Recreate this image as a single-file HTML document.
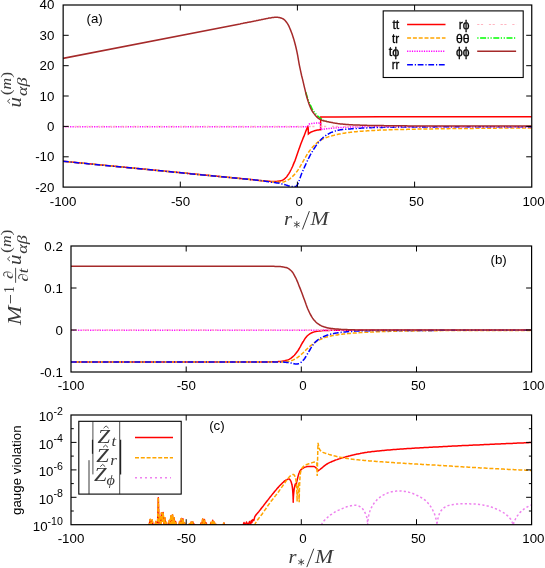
<!DOCTYPE html>
<html><head><meta charset="utf-8"><title>figure</title>
<style>html,body{margin:0;padding:0;background:#fff;}svg{display:block;will-change:transform;}</style></head><body>
<svg width="545" height="568" viewBox="0 0 545 568" font-family="'Liberation Sans', sans-serif">
<rect x="0" y="0" width="545" height="568" fill="#fff"/>
<defs>
<clipPath id="ca"><rect x="63.1" y="5" width="468.6" height="182.1"/></clipPath>
<clipPath id="cb"><rect x="71" y="246" width="460.6" height="126"/></clipPath>
<clipPath id="cc"><rect x="71" y="415" width="460.6" height="109.7"/></clipPath>
</defs>
<g id="panelA">
<path d="M62.9 161.3 L262 180.7 L262.6 180.8 L263.2 180.8 L263.8 180.9 L264.4 180.9 L265 181 L265.6 181 L266.2 181.1 L266.9 181.1 L267.5 181.2 L268.1 181.2 L268.7 181.2 L269.3 181.3 L269.9 181.3 L270.5 181.4 L271.1 181.4 L271.7 181.5 L272.3 181.5 L272.9 181.5 L273.5 181.5 L274.1 181.5 L274.7 181.5 L275.3 181.4 L276 181.4 L276.6 181.4 L277.2 181.3 L277.8 181.3 L278.4 181.2 L279 181.1 L279.6 181 L280.2 180.9 L280.8 180.7 L281.4 180.6 L282 180.4 L282.6 180.1 L283.2 179.8 L283.8 179.5 L284.4 179 L285.1 178.4 L285.7 177.8 L286.3 177.2 L286.9 176.5 L287.5 175.6 L288.1 174.7 L288.7 173.8 L289.3 172.8 L289.9 171.8 L290.5 170.6 L291.1 169.5 L291.7 168.3 L292.3 167 L292.9 165.6 L293.5 164.1 L294.1 162.6 L294.8 161.1 L295.4 159.4 L296 157.7 L296.6 156 L297.2 154.3 L297.8 152.5 L298.4 150.8 L299 149.1 L299.6 147.4 L300.2 145.7 L300.8 144.1 L301.4 142.5 L302 141 L302.6 139.5 L303.2 137.9 L303.9 136.4 L304.5 134.8 L305.1 133.2 L305.7 131.6 L306.3 130.1 L306.9 128.6 L307.5 127.3 L308.1 126.1 L308.4 134 L309.4 133.2 L310.4 132.5 L311.4 131.9 L312.5 131.5 L313.5 131.1 L314.5 130.8 L315.5 130.5 L316.5 130.3 L317.6 130.1 L318.6 129.9 L319.6 129.8 L320.6 129.7 L320.7 116.9 L335 116.9 L380 116.8 L531.9 116.7" fill="none" stroke="#ff0000" stroke-width="1.5" clip-path="url(#ca)" />
<path d="M62.9 161.3 L266 181.1 L267 181.2 L268 181.4 L269 181.5 L270 181.6 L271 181.7 L272 181.8 L273 181.9 L274 181.9 L275 182 L276 182.1 L277 182.1 L278 182.2 L279 182.2 L280 182.2 L281.1 182.2 L282.1 182 L283.1 181.9 L284.1 181.7 L285.1 181.4 L286.1 181 L287.1 180.5 L288.1 179.9 L289.1 179.3 L290.1 178.6 L291.1 177.8 L292.1 176.9 L293.1 175.9 L294.1 174.9 L295.1 173.8 L296.1 172.6 L297.1 171.3 L298.1 169.9 L299.1 168.3 L300.1 166.6 L301.1 164.9 L302.1 163.2 L303.1 161.4 L304.1 159.6 L305.1 157.8 L306.1 156.2 L307.1 154.5 L308.1 153 L309.1 151.5 L310.1 150.1 L311.2 148.8 L312.2 147.6 L313.2 146.5 L314.2 145.4 L315.2 144.4 L316.2 143.5 L317.2 142.6 L318.2 141.8 L319.2 141.1 L320.2 140.4 L321.2 139.8 L322.2 139.3 L323.2 138.8 L324.2 138.3 L325.2 137.9 L326.2 137.6 L327.2 137.2 L328.2 136.9 L329.2 136.5 L330.2 136.2 L331.2 135.9 L332.2 135.7 L333.2 135.4 L334.2 135.2 L335.2 134.9 L336.2 134.7 L337.2 134.5 L338.2 134.3 L339.2 134.1 L340.3 133.9 L341.3 133.7 L342.3 133.5 L343.3 133.3 L344.3 133.2 L345.3 133 L346.3 132.8 L347.3 132.7 L348.3 132.5 L349.3 132.4 L350.3 132.3 L351.3 132.2 L352.3 132 L353.3 131.9 L354.3 131.8 L355.3 131.8 L356.3 131.7 L357.3 131.6 L358.3 131.5 L359.3 131.4 L360.3 131.3 L361.3 131.2 L362.3 131.2 L363.3 131.1 L364.3 131 L365.3 131 L366.3 130.9 L367.3 130.8 L368.3 130.8 L369.3 130.7 L370.4 130.6 L371.4 130.6 L372.4 130.5 L373.4 130.4 L374.4 130.4 L375.4 130.3 L376.4 130.3 L377.4 130.2 L378.4 130.2 L379.4 130.1 L380.4 130.1 L381.4 130 L382.4 130 L383.4 130 L384.4 129.9 L385.4 129.9 L386.4 129.9 L387.4 129.8 L388.4 129.8 L389.4 129.8 L390.4 129.8 L391.4 129.7 L392.4 129.7 L393.4 129.7 L394.4 129.6 L395.4 129.6 L396.4 129.6 L397.4 129.6 L398.4 129.5 L399.5 129.5 L400.5 129.5 L401.5 129.5 L402.5 129.4 L403.5 129.4 L404.5 129.4 L405.5 129.4 L406.5 129.4 L407.5 129.3 L408.5 129.3 L409.5 129.3 L410.5 129.3 L411.5 129.3 L412.5 129.2 L413.5 129.2 L414.5 129.2 L415.5 129.2 L416.5 129.2 L417.5 129.1 L418.5 129.1 L419.5 129.1 L420.5 129.1 L421.5 129.1 L422.5 129.1 L423.5 129 L424.5 129 L425.5 129 L426.5 129 L427.5 129 L428.6 129 L429.6 128.9 L430.6 128.9 L431.6 128.9 L432.6 128.9 L433.6 128.9 L434.6 128.9 L435.6 128.8 L436.6 128.8 L437.6 128.8 L438.6 128.8 L439.6 128.8 L440.6 128.8 L441.6 128.7 L442.6 128.7 L443.6 128.7 L444.6 128.7 L445.6 128.7 L446.6 128.7 L447.6 128.7 L448.6 128.7 L449.6 128.6 L450.6 128.6 L451.6 128.6 L452.6 128.6 L453.6 128.6 L454.6 128.6 L455.6 128.6 L456.6 128.5 L457.6 128.5 L458.7 128.5 L459.7 128.5 L460.7 128.5 L461.7 128.5 L462.7 128.5 L463.7 128.5 L464.7 128.5 L465.7 128.4 L466.7 128.4 L467.7 128.4 L468.7 128.4 L469.7 128.4 L470.7 128.4 L471.7 128.4 L472.7 128.4 L473.7 128.4 L474.7 128.4 L475.7 128.3 L476.7 128.3 L477.7 128.3 L478.7 128.3 L479.7 128.3 L480.7 128.3 L481.7 128.3 L482.7 128.3 L483.7 128.3 L484.7 128.3 L485.7 128.2 L486.7 128.2 L487.8 128.2 L488.8 128.2 L489.8 128.2 L490.8 128.2 L491.8 128.2 L492.8 128.2 L493.8 128.2 L494.8 128.2 L495.8 128.2 L496.8 128.1 L497.8 128.1 L498.8 128.1 L499.8 128.1 L500.8 128.1 L501.8 128.1 L502.8 128.1 L503.8 128.1 L504.8 128.1 L505.8 128.1 L506.8 128.1 L507.8 128.1 L508.8 128 L509.8 128 L510.8 128 L511.8 128 L512.8 128 L513.8 128 L514.8 128 L515.8 128 L516.8 128 L517.9 128 L518.9 128 L519.9 128 L520.9 128 L521.9 128 L522.9 127.9 L523.9 127.9 L524.9 127.9 L525.9 127.9 L526.9 127.9 L527.9 127.9 L528.9 127.9 L529.9 127.9 L530.9 127.9 L531.9 127.9" fill="none" stroke="#ffa500" stroke-width="1.5" stroke-dasharray="4 1.8" clip-path="url(#ca)" />
<path d="M62.9 126.7 L306 126.7 L306.6 126.6 L307.2 126.5 L307.8 126.2 L308.4 125.4 L309 124.3 L309.6 123.9 L310.2 123.7 L310.8 123.6 L311.4 123.6 L312 123.5 L312.6 123.4 L313.2 123.4 L313.9 123.3 L314.5 123.2 L315.1 123.2 L315.7 123.1 L316.3 123.1 L316.9 123 L317.5 123 L318.1 122.9 L318.7 122.9 L319.3 122.9 L319.9 122.8 L320.5 122.8 L320.7 129.6 L321.7 129.5 L322.7 129.3 L323.7 129.2 L324.7 129 L325.7 128.9 L326.7 128.8 L327.7 128.7 L328.7 128.6 L329.7 128.5 L330.7 128.3 L331.7 128.2 L332.7 128.1 L333.7 128.1 L334.7 128 L335.7 127.9 L336.7 127.8 L337.7 127.7 L338.7 127.6 L339.7 127.6 L340.7 127.5 L341.7 127.4 L342.7 127.4 L343.7 127.3 L344.7 127.2 L345.7 127.2 L346.7 127.1 L347.7 127.1 L348.7 127 L349.7 127 L350.7 127 L351.7 127 L352.7 126.9 L353.7 126.9 L354.7 126.9 L355.7 126.9 L356.7 126.9 L357.7 126.9 L358.7 126.8 L359.7 126.8 L360.7 126.8 L361.7 126.8 L362.7 126.8 L363.7 126.8 L364.7 126.8 L365.7 126.8 L366.7 126.8 L367.7 126.8 L368.7 126.8 L369.7 126.8 L370.7 126.7 L371.7 126.7 L372.7 126.7 L373.8 126.7 L374.8 126.7 L375.8 126.7 L376.8 126.7 L377.8 126.7 L378.8 126.7 L379.8 126.7 L380.8 126.7 L381.8 126.7 L382.8 126.7 L383.8 126.7 L384.8 126.7 L385.8 126.7 L386.8 126.7 L387.8 126.7 L388.8 126.7 L389.8 126.7 L390.8 126.7 L391.8 126.7 L392.8 126.7 L393.8 126.7 L394.8 126.7 L395.8 126.7 L396.8 126.7 L397.8 126.7 L398.8 126.7 L399.8 126.7 L400.8 126.7 L401.8 126.7 L402.8 126.7 L403.8 126.7 L404.8 126.7 L405.8 126.7 L406.8 126.7 L407.8 126.7 L408.8 126.7 L409.8 126.7 L410.8 126.7 L411.8 126.7 L412.8 126.7 L413.8 126.7 L414.8 126.7 L415.8 126.7 L416.8 126.7 L417.8 126.7 L418.8 126.7 L419.8 126.7 L420.8 126.7 L421.8 126.7 L422.8 126.7 L423.8 126.7 L424.8 126.7 L425.8 126.7 L426.8 126.7 L427.8 126.7 L428.8 126.7 L429.8 126.7 L430.8 126.7 L431.8 126.7 L432.8 126.7 L433.8 126.7 L434.8 126.7 L435.8 126.7 L436.8 126.7 L437.8 126.7 L438.8 126.7 L439.8 126.7 L440.8 126.7 L441.8 126.7 L442.8 126.7 L443.8 126.7 L444.8 126.7 L445.8 126.7 L446.8 126.7 L447.8 126.7 L448.8 126.7 L449.8 126.7 L450.8 126.7 L451.8 126.7 L452.8 126.7 L453.8 126.7 L454.8 126.7 L455.8 126.7 L456.8 126.7 L457.8 126.7 L458.8 126.7 L459.8 126.7 L460.8 126.7 L461.8 126.7 L462.8 126.7 L463.8 126.7 L464.8 126.7 L465.8 126.7 L466.8 126.7 L467.8 126.7 L468.8 126.7 L469.8 126.7 L470.8 126.7 L471.8 126.7 L472.8 126.7 L473.8 126.7 L474.8 126.7 L475.8 126.7 L476.8 126.7 L477.8 126.7 L478.8 126.7 L479.9 126.7 L480.9 126.7 L481.9 126.7 L482.9 126.7 L483.9 126.7 L484.9 126.7 L485.9 126.7 L486.9 126.7 L487.9 126.7 L488.9 126.7 L489.9 126.7 L490.9 126.7 L491.9 126.7 L492.9 126.7 L493.9 126.7 L494.9 126.7 L495.9 126.7 L496.9 126.7 L497.9 126.7 L498.9 126.7 L499.9 126.7 L500.9 126.7 L501.9 126.7 L502.9 126.7 L503.9 126.7 L504.9 126.7 L505.9 126.7 L506.9 126.7 L507.9 126.7 L508.9 126.7 L509.9 126.7 L510.9 126.7 L511.9 126.7 L512.9 126.7 L513.9 126.7 L514.9 126.7 L515.9 126.7 L516.9 126.7 L517.9 126.7 L518.9 126.7 L519.9 126.7 L520.9 126.7 L521.9 126.7 L522.9 126.7 L523.9 126.7 L524.9 126.7 L525.9 126.7 L526.9 126.7 L527.9 126.7 L528.9 126.7 L529.9 126.7 L530.9 126.7 L531.9 126.7" fill="none" stroke="#ff00ff" stroke-width="1.5" stroke-dasharray="1.2 1.2" clip-path="url(#ca)" />
<path d="M62.9 161.3 L264 180.9 L264.6 181 L265.2 181.2 L265.8 181.3 L266.4 181.4 L267 181.5 L267.6 181.6 L268.2 181.7 L268.8 181.8 L269.4 181.9 L270 182 L270.6 182.1 L271.2 182.2 L271.8 182.2 L272.4 182.3 L273 182.4 L273.6 182.5 L274.2 182.5 L274.8 182.6 L275.4 182.7 L276 182.8 L276.6 182.9 L277.2 182.9 L277.8 183 L278.4 183.1 L279 183.2 L279.6 183.3 L280.2 183.4 L280.8 183.6 L281.4 183.7 L282 183.9 L282.6 184 L283.2 184.2 L283.8 184.3 L284.4 184.5 L285 184.7 L285.6 184.9 L286.2 185.1 L286.8 185.3 L287.4 185.5 L288 185.7 L288.6 185.9 L289.2 186 L289.8 186.2 L290.4 186.3 L291 186.4 L291.6 186.5 L292.2 186.6 L292.8 186.6 L293.4 186.6 L294 186.6 L294.6 186.6 L295.2 186.5 L295.8 186.4 L296.4 186 L297 185.3 L297.6 184.4 L298.2 183.2 L298.8 181.5 L299.4 179.9 L300 178.2 L300.6 176.5 L301.2 174.8 L301.8 173.2 L302.4 171.7 L303 170.4 L303.6 169 L304.2 167.7 L304.8 166.4 L305.4 165.1 L306 163.8 L306.6 162.5 L307.2 161.2 L307.8 159.9 L308.4 158.7 L309.1 157.4 L309.7 156.2 L310.3 155 L310.9 153.9 L311.5 152.8 L312.1 151.8 L312.7 150.8 L313.3 149.9 L313.9 148.9 L314.5 148 L315.1 147.1 L315.7 146.2 L316.3 145.3 L316.9 144.5 L317.5 143.7 L318.1 142.9 L318.7 142.2 L319.3 141.4 L319.9 140.8 L320.5 140.1 L321.1 139.5 L321.7 138.8 L322.3 138.3 L322.9 137.7 L323.5 137.2 L324.1 136.7 L324.7 136.3 L325.3 135.8 L325.9 135.4 L326.5 135 L327.1 134.7 L327.7 134.3 L328.3 134 L328.9 133.6 L329.5 133.3 L330.1 133 L330.7 132.7 L331.3 132.4 L331.9 132.2 L332.5 132 L333.1 131.7 L333.7 131.5 L334.3 131.3 L334.9 131.1 L335.5 130.9 L336.1 130.8 L336.7 130.6 L337.3 130.5 L337.9 130.3 L338.5 130.2 L339.1 130.1 L339.7 130 L340.3 129.8 L340.9 129.8 L341.5 129.7 L342.1 129.6 L342.7 129.5 L343.3 129.5 L343.9 129.4 L344.5 129.3 L345.1 129.3 L345.7 129.2 L346.3 129.2 L346.9 129.1 L347.5 129.1 L348.1 129 L348.7 129 L349.3 129 L349.9 128.9 L350.5 128.9 L351.1 128.8 L351.7 128.8 L352.3 128.7 L352.9 128.7 L353.5 128.6 L354.1 128.6 L354.7 128.6 L355.3 128.5 L355.9 128.5 L356.5 128.4 L357.1 128.4 L357.7 128.4 L358.3 128.3 L358.9 128.3 L359.5 128.3 L360.1 128.2 L360.7 128.2 L361.3 128.1 L361.9 128.1 L362.5 128.1 L363.1 128.1 L363.7 128 L364.3 128 L364.9 128 L365.5 127.9 L366.1 127.9 L366.7 127.9 L367.3 127.8 L367.9 127.8 L368.5 127.8 L369.1 127.8 L369.7 127.7 L370.3 127.7 L370.9 127.7 L371.5 127.7 L372.1 127.6 L372.7 127.6 L373.3 127.6 L373.9 127.6 L374.5 127.6 L375.1 127.5 L375.7 127.5 L376.3 127.5 L376.9 127.5 L377.5 127.5 L378.1 127.4 L378.7 127.4 L379.3 127.4 L379.9 127.4 L380.5 127.4 L381.1 127.4 L381.7 127.4 L382.3 127.4 L382.9 127.3 L383.5 127.3 L384.1 127.3 L384.7 127.3 L385.3 127.3 L385.9 127.3 L386.5 127.3 L387.1 127.3 L387.7 127.3 L388.3 127.2 L388.9 127.2 L389.5 127.2 L390.1 127.2 L390.7 127.2 L391.3 127.2 L391.9 127.2 L392.5 127.2 L393.1 127.2 L393.7 127.2 L394.3 127.1 L394.9 127.1 L395.5 127.1 L396.1 127.1 L396.7 127.1 L397.3 127.1 L397.9 127.1 L398.6 127.1 L399.2 127.1 L399.8 127.1 L400.4 127.1 L401 127.1 L401.6 127 L402.2 127 L402.8 127 L403.4 127 L404 127 L404.6 127 L405.2 127 L405.8 127 L406.4 127 L407 127 L407.6 127 L408.2 127 L408.8 127 L409.4 127 L410 127 L410.6 127 L411.2 127 L411.8 126.9 L412.4 126.9 L413 126.9 L413.6 126.9 L414.2 126.9 L414.8 126.9 L415.4 126.9 L416 126.9 L416.6 126.9 L417.2 126.9 L417.8 126.9 L418.4 126.9 L419 126.9 L419.6 126.9 L420.2 126.9 L420.8 126.9 L421.4 126.9 L422 126.9 L422.6 126.9 L423.2 126.9 L423.8 126.9 L424.4 126.9 L425 126.9 L425.6 126.9 L426.2 126.9 L426.8 126.9 L427.4 126.9 L428 126.9 L428.6 126.9 L429.2 126.9 L429.8 126.9 L430.4 126.9 L431 126.9 L431.6 126.9 L432.2 126.9 L432.8 126.9 L433.4 126.9 L434 126.9 L434.6 126.9 L435.2 126.8 L435.8 126.8 L436.4 126.8 L437 126.8 L437.6 126.8 L438.2 126.8 L438.8 126.8 L439.4 126.8 L440 126.8 L440.6 126.8 L441.2 126.8 L441.8 126.8 L442.4 126.8 L443 126.8 L443.6 126.8 L444.2 126.8 L444.8 126.8 L445.4 126.8 L446 126.8 L446.6 126.8 L447.2 126.8 L447.8 126.8 L448.4 126.8 L449 126.8 L449.6 126.8 L450.2 126.8 L450.8 126.8 L451.4 126.8 L452 126.8 L452.6 126.8 L453.2 126.8 L453.8 126.8 L454.4 126.8 L455 126.8 L455.6 126.8 L456.2 126.8 L456.8 126.8 L457.4 126.8 L458 126.8 L458.6 126.8 L459.2 126.8 L459.8 126.8 L460.4 126.8 L461 126.8 L461.6 126.8 L462.2 126.8 L462.8 126.8 L463.4 126.8 L464 126.8 L464.6 126.8 L465.2 126.8 L465.8 126.8 L466.4 126.8 L467 126.8 L467.6 126.8 L468.2 126.8 L468.8 126.8 L469.4 126.8 L470 126.8 L470.6 126.8 L471.2 126.8 L471.8 126.8 L472.4 126.8 L473 126.8 L473.6 126.8 L474.2 126.8 L474.8 126.8 L475.4 126.8 L476 126.8 L476.6 126.7 L477.2 126.7 L477.8 126.7 L478.4 126.7 L479 126.7 L479.6 126.7 L480.2 126.7 L480.8 126.7 L481.4 126.7 L482 126.7 L482.6 126.7 L483.2 126.7 L483.8 126.7 L484.4 126.7 L485 126.7 L485.6 126.7 L486.2 126.7 L486.8 126.7 L487.5 126.7 L488.1 126.7 L488.7 126.7 L489.3 126.7 L489.9 126.7 L490.5 126.7 L491.1 126.7 L491.7 126.7 L492.3 126.7 L492.9 126.7 L493.5 126.7 L494.1 126.7 L494.7 126.7 L495.3 126.7 L495.9 126.7 L496.5 126.7 L497.1 126.7 L497.7 126.7 L498.3 126.7 L498.9 126.7 L499.5 126.7 L500.1 126.7 L500.7 126.7 L501.3 126.7 L501.9 126.7 L502.5 126.7 L503.1 126.7 L503.7 126.7 L504.3 126.7 L504.9 126.7 L505.5 126.7 L506.1 126.7 L506.7 126.7 L507.3 126.7 L507.9 126.7 L508.5 126.7 L509.1 126.7 L509.7 126.7 L510.3 126.7 L510.9 126.7 L511.5 126.7 L512.1 126.7 L512.7 126.7 L513.3 126.7 L513.9 126.7 L514.5 126.7 L515.1 126.7 L515.7 126.7 L516.3 126.7 L516.9 126.7 L517.5 126.7 L518.1 126.7 L518.7 126.7 L519.3 126.7 L519.9 126.7 L520.5 126.7 L521.1 126.7 L521.7 126.7 L522.3 126.7 L522.9 126.7 L523.5 126.7 L524.1 126.7 L524.7 126.7 L525.3 126.7 L525.9 126.7 L526.5 126.7 L527.1 126.7 L527.7 126.7 L528.3 126.7 L528.9 126.7 L529.5 126.7 L530.1 126.7 L530.7 126.7 L531.3 126.7 L531.9 126.7" fill="none" stroke="#0000ff" stroke-width="1.5" stroke-dasharray="5.8 1.9 1.2 1.7" clip-path="url(#ca)" />
<path d="M62.9 126.6 L531.9 126.6" fill="none" stroke="#ffb6c1" stroke-width="1.5" stroke-dasharray="2.2 1.5 2.2 5.8" clip-path="url(#ca)" />
<path d="M305.8 92.2 L306.6 95 L307.4 97.6 L308.2 99.9 L309 102 L309.8 103.9 L310.6 105.7 L311.4 107.3 L312.2 108.8 L313 110.1 L313.8 111.4 L314.6 112.5 L315.4 113.5 L316.2 114.5 L317 115.3 L317.8 116.1 L318.6 116.8 L319.4 117.4 L320.2 118.1 L321 118.8 L321.8 119.4 L322.6 119.9 L323.4 120.3 L324.2 120.6 L325 120.9 L325.8 121.2 L326.6 121.4" fill="none" stroke="#00ff00" stroke-width="1.5" stroke-dasharray="6 1.5 1.2 1.7 1.2 1.6" clip-path="url(#ca)" />
<path d="M62.9 58.4 L240 23.9 L240.8 23.7 L241.6 23.6 L242.4 23.4 L243.2 23.3 L244 23.1 L244.8 23 L245.6 22.8 L246.4 22.7 L247.2 22.5 L248 22.3 L248.8 22.2 L249.6 22 L250.4 21.9 L251.2 21.7 L252 21.6 L252.8 21.4 L253.6 21.2 L254.4 21.1 L255.2 20.9 L256 20.8 L256.8 20.6 L257.6 20.4 L258.4 20.3 L259.2 20.1 L260 19.9 L260.9 19.8 L261.7 19.6 L262.5 19.4 L263.3 19.2 L264.1 19.1 L264.9 18.9 L265.7 18.7 L266.5 18.6 L267.3 18.4 L268.1 18.3 L268.9 18.1 L269.7 18 L270.5 17.9 L271.3 17.7 L272.1 17.6 L272.9 17.5 L273.7 17.4 L274.5 17.3 L275.3 17.3 L276.1 17.2 L276.9 17.2 L277.7 17.3 L278.5 17.4 L279.3 17.5 L280.1 17.7 L280.9 17.9 L281.7 18.2 L282.5 18.6 L283.3 19 L284.1 19.6 L284.9 20.3 L285.7 21.2 L286.5 22.2 L287.3 23.4 L288.1 24.7 L288.9 26.2 L289.7 28 L290.5 29.9 L291.3 32 L292.1 34.1 L292.9 36.4 L293.7 38.9 L294.5 41.7 L295.3 44.7 L296.1 48 L296.9 51.6 L297.7 55.7 L298.5 60.3 L299.3 64.8 L300.1 68.7 L300.9 72.4 L301.7 76 L302.6 79.4 L303.4 82.8 L304.2 86.3 L305 89.7 L305.8 93.1 L306.6 96.2 L307.4 99.1 L308.2 101.6 L309 103.9 L309.8 106.1 L310.6 108 L311.4 109.6 L312.2 111 L313 112.3 L313.8 113.4 L314.6 114.4 L315.4 115.4 L316.2 116.3 L317 117.1 L317.8 117.9 L318.6 118.5 L319.4 119 L320.2 119.4 L321 119.8 L321.8 120.2 L322.6 120.4 L323.4 120.7 L324.2 120.9 L325 121.1 L325.8 121.3 L326.6 121.5 L327.4 121.7 L328.2 121.8 L329 122 L329.8 122.2 L330.6 122.3 L331.4 122.5 L332.2 122.6 L333 122.8 L333.8 122.9 L334.6 123.1 L335.4 123.2 L336.2 123.3 L337 123.4 L337.8 123.6 L338.6 123.7 L339.4 123.8 L340.2 123.9 L341 123.9 L341.8 124 L342.6 124.1 L343.4 124.2 L344.2 124.3 L345.1 124.3 L345.9 124.4 L346.7 124.5 L347.5 124.5 L348.3 124.6 L349.1 124.7 L349.9 124.7 L350.7 124.8 L351.5 124.8 L352.3 124.8 L353.1 124.9 L353.9 124.9 L354.7 125 L355.5 125 L356.3 125 L357.1 125 L357.9 125.1 L358.7 125.1 L359.5 125.1 L360.3 125.2 L361.1 125.2 L361.9 125.2 L362.7 125.2 L363.5 125.3 L364.3 125.3 L365.1 125.3 L365.9 125.3 L366.7 125.3 L367.5 125.4 L368.3 125.4 L369.1 125.4 L369.9 125.4 L370.7 125.4 L371.5 125.5 L372.3 125.5 L373.1 125.5 L373.9 125.5 L374.7 125.5 L375.5 125.5 L376.3 125.5 L377.1 125.6 L377.9 125.6 L378.7 125.6 L379.5 125.6 L380.3 125.6 L381.1 125.6 L381.9 125.6 L382.7 125.6 L383.5 125.6 L384.3 125.7 L385.1 125.7 L385.9 125.7 L386.8 125.7 L387.6 125.7 L388.4 125.7 L389.2 125.7 L390 125.7 L390.8 125.7 L391.6 125.7 L392.4 125.7 L393.2 125.7 L394 125.8 L394.8 125.8 L395.6 125.8 L396.4 125.8 L397.2 125.8 L398 125.8 L398.8 125.8 L399.6 125.8 L400.4 125.8 L401.2 125.8 L402 125.8 L402.8 125.8 L403.6 125.8 L404.4 125.8 L405.2 125.8 L406 125.8 L406.8 125.8 L407.6 125.9 L408.4 125.9 L409.2 125.9 L410 125.9 L410.8 125.9 L411.6 125.9 L412.4 125.9 L413.2 125.9 L414 125.9 L414.8 125.9 L415.6 125.9 L416.4 125.9 L417.2 125.9 L418 125.9 L418.8 125.9 L419.6 125.9 L420.4 125.9 L421.2 125.9 L422 125.9 L422.8 125.9 L423.6 125.9 L424.4 125.9 L425.2 125.9 L426 125.9 L426.8 125.9 L427.6 125.9 L428.5 125.9 L429.3 125.9 L430.1 125.9 L430.9 125.9 L431.7 125.9 L432.5 125.9 L433.3 125.9 L434.1 125.9 L434.9 125.9 L435.7 125.9 L436.5 125.9 L437.3 125.9 L438.1 125.9 L438.9 125.9 L439.7 125.9 L440.5 125.9 L441.3 125.9 L442.1 125.9 L442.9 125.9 L443.7 125.9 L444.5 125.9 L445.3 125.9 L446.1 125.9 L446.9 125.9 L447.7 125.9 L448.5 125.9 L449.3 125.9 L450.1 125.9 L450.9 125.9 L451.7 125.9 L452.5 126 L453.3 126 L454.1 126 L454.9 126 L455.7 126 L456.5 126 L457.3 126 L458.1 126 L458.9 126 L459.7 126 L460.5 126 L461.3 126 L462.1 126 L462.9 126 L463.7 126 L464.5 126 L465.3 126 L466.1 126 L466.9 126 L467.7 126 L468.5 126 L469.3 126 L470.2 126 L471 126 L471.8 126 L472.6 126 L473.4 126 L474.2 126 L475 126 L475.8 126 L476.6 126 L477.4 126 L478.2 126 L479 126 L479.8 126 L480.6 126 L481.4 126 L482.2 126 L483 126 L483.8 126 L484.6 126 L485.4 126 L486.2 126 L487 126 L487.8 126 L488.6 126 L489.4 126 L490.2 126 L491 126 L491.8 126 L492.6 126 L493.4 126 L494.2 126 L495 126 L495.8 126 L496.6 126 L497.4 126 L498.2 126 L499 126 L499.8 126 L500.6 126 L501.4 126 L502.2 126 L503 126 L503.8 126 L504.6 126 L505.4 126 L506.2 126 L507 126 L507.8 126 L508.6 126 L509.4 126 L510.2 126 L511 126 L511.9 126 L512.7 126 L513.5 126 L514.3 126 L515.1 126 L515.9 126 L516.7 126 L517.5 126 L518.3 126 L519.1 126 L519.9 126 L520.7 126 L521.5 126 L522.3 126 L523.1 126 L523.9 126 L524.7 126 L525.5 126 L526.3 126 L527.1 126 L527.9 126 L528.7 126 L529.5 126 L530.3 126 L531.1 126 L531.9 126" fill="none" stroke="#a52a2a" stroke-width="1.5" clip-path="url(#ca)" />
<rect x="63.15" y="5" width="468.6" height="182.1" fill="none" stroke="#000" stroke-width="1.2"/>
<line x1="180.3" y1="187.1" x2="180.3" y2="181.6" stroke="#000" stroke-width="1.0" />
<line x1="180.3" y1="5" x2="180.3" y2="10.5" stroke="#000" stroke-width="1.0" />
<line x1="297.4" y1="187.1" x2="297.4" y2="181.6" stroke="#000" stroke-width="1.0" />
<line x1="297.4" y1="5" x2="297.4" y2="10.5" stroke="#000" stroke-width="1.0" />
<line x1="414.6" y1="187.1" x2="414.6" y2="181.6" stroke="#000" stroke-width="1.0" />
<line x1="414.6" y1="5" x2="414.6" y2="10.5" stroke="#000" stroke-width="1.0" />
<line x1="63.1" y1="35.3" x2="68.7" y2="35.3" stroke="#000" stroke-width="1.0" />
<line x1="531.7" y1="35.3" x2="526.2" y2="35.3" stroke="#000" stroke-width="1.0" />
<line x1="63.1" y1="65.7" x2="68.7" y2="65.7" stroke="#000" stroke-width="1.0" />
<line x1="531.7" y1="65.7" x2="526.2" y2="65.7" stroke="#000" stroke-width="1.0" />
<line x1="63.1" y1="96" x2="68.7" y2="96" stroke="#000" stroke-width="1.0" />
<line x1="531.7" y1="96" x2="526.2" y2="96" stroke="#000" stroke-width="1.0" />
<line x1="63.1" y1="126.4" x2="68.7" y2="126.4" stroke="#000" stroke-width="1.0" />
<line x1="531.7" y1="126.4" x2="526.2" y2="126.4" stroke="#000" stroke-width="1.0" />
<line x1="63.1" y1="156.8" x2="68.7" y2="156.8" stroke="#000" stroke-width="1.0" />
<line x1="531.7" y1="156.8" x2="526.2" y2="156.8" stroke="#000" stroke-width="1.0" />
<text x="54.4" y="9.4" text-anchor="end" font-family="'Liberation Sans', sans-serif" font-size="13.3" fill="#000" >40</text>
<text x="54.4" y="39.7" text-anchor="end" font-family="'Liberation Sans', sans-serif" font-size="13.3" fill="#000" >30</text>
<text x="54.4" y="70.1" text-anchor="end" font-family="'Liberation Sans', sans-serif" font-size="13.3" fill="#000" >20</text>
<text x="54.4" y="100.5" text-anchor="end" font-family="'Liberation Sans', sans-serif" font-size="13.3" fill="#000" >10</text>
<text x="54.4" y="130.8" text-anchor="end" font-family="'Liberation Sans', sans-serif" font-size="13.3" fill="#000" >0</text>
<text x="54.4" y="161.2" text-anchor="end" font-family="'Liberation Sans', sans-serif" font-size="13.3" fill="#000" >-10</text>
<text x="54.4" y="191.5" text-anchor="end" font-family="'Liberation Sans', sans-serif" font-size="13.3" fill="#000" >-20</text>
<text x="63.1" y="206" text-anchor="middle" font-family="'Liberation Sans', sans-serif" font-size="13.3" fill="#000" >-100</text>
<text x="180.5" y="206" text-anchor="middle" font-family="'Liberation Sans', sans-serif" font-size="13.3" fill="#000" >-50</text>
<text x="299.1" y="206" text-anchor="middle" font-family="'Liberation Sans', sans-serif" font-size="13.3" fill="#000" >0</text>
<text x="416.4" y="206" text-anchor="middle" font-family="'Liberation Sans', sans-serif" font-size="13.3" fill="#000" >50</text>
<text x="533.5" y="206" text-anchor="middle" font-family="'Liberation Sans', sans-serif" font-size="13.3" fill="#000" >100</text>
<text x="94.6" y="22.9" text-anchor="middle" font-family="'Liberation Sans', sans-serif" font-size="13.3" fill="#000" >(a)</text>
<rect x="383.2" y="10.9" width="140" height="66.6" fill="#fff" stroke="#000" stroke-width="1.1"/>
<text x="399.3" y="29.2" text-anchor="end" font-family="'Liberation Sans', sans-serif" font-size="13.3" fill="#000" stroke="#000" stroke-width="0.3" textLength="6.9" lengthAdjust="spacingAndGlyphs">tt</text>
<path d="M407.1 24.5 L445.5 24.5" fill="none" stroke="#ff0000" stroke-width="1.5" />
<text x="399.3" y="42.7" text-anchor="end" font-family="'Liberation Sans', sans-serif" font-size="13.3" fill="#000" stroke="#000" stroke-width="0.3" textLength="7.2" lengthAdjust="spacingAndGlyphs">tr</text>
<path d="M407.1 38 L445.5 38" fill="none" stroke="#ffa500" stroke-width="1.5" stroke-dasharray="4 1.8" />
<text x="399.3" y="56" text-anchor="end" font-family="'Liberation Sans', sans-serif" font-size="13.3" fill="#000" stroke="#000" stroke-width="0.3" textLength="10.6" lengthAdjust="spacingAndGlyphs">tϕ</text>
<path d="M407.1 51.3 L445.5 51.3" fill="none" stroke="#ff00ff" stroke-width="1.5" stroke-dasharray="1.2 1.2" />
<text x="399.3" y="69.4" text-anchor="end" font-family="'Liberation Sans', sans-serif" font-size="13.3" fill="#000" stroke="#000" stroke-width="0.3" textLength="7.6" lengthAdjust="spacingAndGlyphs">rr</text>
<path d="M407.1 64.7 L445.5 64.7" fill="none" stroke="#0000ff" stroke-width="1.5" stroke-dasharray="5.8 1.9 1.2 1.7" />
<text x="469.6" y="29.2" text-anchor="end" font-family="'Liberation Sans', sans-serif" font-size="13.3" fill="#000" stroke="#000" stroke-width="0.3" textLength="10.8" lengthAdjust="spacingAndGlyphs">rϕ</text>
<path d="M477.2 24.5 L516.1 24.5" fill="none" stroke="#ffb6c1" stroke-width="1.2" stroke-dasharray="2.2 1.5 2.2 5.8" />
<text x="469.6" y="42.7" text-anchor="end" font-family="'Liberation Sans', sans-serif" font-size="13.3" fill="#000" stroke="#000" stroke-width="0.3" textLength="13.6" lengthAdjust="spacingAndGlyphs">θθ</text>
<path d="M477.2 38 L516.1 38" fill="none" stroke="#00ff00" stroke-width="1.5" stroke-dasharray="6 1.5 1.2 1.7 1.2 1.6" stroke-dashoffset="10.3"/>
<text x="469.6" y="56" text-anchor="end" font-family="'Liberation Sans', sans-serif" font-size="13.3" fill="#000" stroke="#000" stroke-width="0.3" textLength="13.6" lengthAdjust="spacingAndGlyphs">ϕϕ</text>
<path d="M477.2 51.3 L516.1 51.3" fill="none" stroke="#a52a2a" stroke-width="1.4" />
</g>
<g id="panelB">
<path d="M70.9 361.9 L250 361.9 L250.6 361.9 L251.2 361.9 L251.8 361.9 L252.4 361.9 L253 361.9 L253.6 361.9 L254.2 361.9 L254.8 361.9 L255.4 361.9 L256 361.9 L256.6 361.9 L257.2 361.9 L257.8 361.9 L258.4 361.9 L259 361.9 L259.6 361.9 L260.2 361.9 L260.8 361.9 L261.4 361.9 L262 361.9 L262.6 361.9 L263.2 361.9 L263.8 361.9 L264.4 361.9 L265 361.9 L265.6 361.9 L266.2 361.9 L266.8 361.9 L267.4 361.9 L268 361.9 L268.6 361.8 L269.2 361.8 L269.8 361.8 L270.4 361.8 L271 361.8 L271.6 361.8 L272.2 361.8 L272.8 361.8 L273.4 361.8 L274 361.8 L274.6 361.8 L275.2 361.8 L275.8 361.8 L276.4 361.8 L277 361.7 L277.6 361.7 L278.2 361.6 L278.8 361.6 L279.4 361.5 L280 361.5 L280.6 361.4 L281.2 361.4 L281.8 361.3 L282.4 361.2 L283 361.1 L283.6 361 L284.2 360.9 L284.8 360.8 L285.4 360.6 L286 360.5 L286.6 360.3 L287.2 360.1 L287.8 359.9 L288.4 359.6 L289 359.4 L289.6 359.1 L290.2 358.7 L290.8 358.3 L291.4 357.9 L292 357.4 L292.6 356.9 L293.2 356.3 L293.8 355.8 L294.4 355.2 L295 354.5 L295.6 353.8 L296.2 353 L296.8 352.2 L297.5 351.3 L298.1 350.5 L298.7 349.5 L299.3 348.5 L299.9 347.4 L300.5 346.3 L301.1 345.1 L301.7 344 L302.3 343 L302.9 342 L303.5 341.1 L304.1 340.1 L304.7 339.1 L305.3 338.2 L305.9 337.4 L306.5 336.7 L307.1 336 L307.7 335.5 L308.3 335 L308.9 334.5 L309.5 334.1 L310.1 333.7 L310.7 333.3 L311.3 333 L311.9 332.7 L312.5 332.5 L313.1 332.3 L313.7 332.1 L314.3 331.9 L314.9 331.7 L315.5 331.6 L316.1 331.4 L316.7 331.3 L317.3 331.2 L317.9 331.2 L318.5 331.1 L319.1 331 L319.7 330.9 L320.3 330.9 L320.9 330.8 L321.5 330.7 L322.1 330.7 L322.7 330.6 L323.3 330.6 L323.9 330.6 L324.5 330.5 L325.1 330.5 L325.7 330.5 L326.3 330.5 L326.9 330.4 L327.5 330.4 L328.1 330.4 L328.7 330.4 L329.3 330.4 L329.9 330.3 L330.5 330.3 L331.1 330.3 L331.7 330.3 L332.3 330.3 L332.9 330.3 L333.5 330.3 L334.1 330.3 L334.7 330.2 L335.3 330.2 L335.9 330.2 L336.5 330.2 L337.1 330.2 L337.7 330.2 L338.3 330.2 L338.9 330.2 L339.5 330.2 L340.1 330.2 L340.7 330.2 L341.3 330.2 L341.9 330.2 L342.5 330.2 L343.1 330.2 L343.7 330.2 L344.3 330.2 L344.9 330.2 L345.5 330.2 L346.1 330.2 L346.7 330.2 L347.3 330.2 L347.9 330.2 L348.5 330.2 L349.1 330.2 L349.7 330.2 L350.3 330.2 L350.9 330.2 L351.5 330.2 L352.1 330.2 L352.7 330.2 L353.3 330.2 L353.9 330.2 L354.5 330.2 L355.1 330.2 L355.7 330.2 L356.3 330.2 L356.9 330.2 L357.5 330.2 L358.1 330.2 L358.7 330.2 L359.3 330.2 L359.9 330.2 L360.5 330.2 L361.1 330.2 L361.7 330.2 L362.3 330.2 L362.9 330.2 L363.5 330.2 L364.1 330.2 L364.7 330.2 L365.3 330.2 L365.9 330.2 L366.5 330.2 L367.1 330.2 L367.7 330.2 L368.3 330.2 L368.9 330.2 L369.5 330.2 L370.1 330.2 L370.7 330.2 L371.3 330.2 L371.9 330.2 L372.5 330.2 L373.1 330.2 L373.7 330.2 L374.3 330.2 L374.9 330.2 L375.5 330.2 L376.1 330.2 L376.7 330.2 L377.3 330.2 L377.9 330.2 L378.5 330.2 L379.1 330.2 L379.7 330.2 L380.3 330.2 L380.9 330.2 L381.5 330.2 L382.1 330.2 L382.7 330.2 L383.3 330.2 L383.9 330.2 L384.5 330.2 L385.1 330.2 L385.7 330.2 L386.3 330.2 L386.9 330.2 L387.5 330.2 L388.1 330.2 L388.7 330.2 L389.3 330.2 L389.9 330.2 L390.5 330.2 L391.1 330.2 L391.8 330.2 L392.4 330.2 L393 330.2 L393.6 330.2 L394.2 330.2 L394.8 330.2 L395.4 330.2 L396 330.2 L396.6 330.2 L397.2 330.2 L397.8 330.2 L398.4 330.2 L399 330.2 L399.6 330.2 L400.2 330.2 L400.8 330.2 L401.4 330.2 L402 330.2 L402.6 330.2 L403.2 330.2 L403.8 330.2 L404.4 330.2 L405 330.2 L405.6 330.2 L406.2 330.2 L406.8 330.2 L407.4 330.2 L408 330.2 L408.6 330.2 L409.2 330.2 L409.8 330.2 L410.4 330.2 L411 330.2 L411.6 330.2 L412.2 330.2 L412.8 330.2 L413.4 330.2 L414 330.2 L414.6 330.2 L415.2 330.2 L415.8 330.2 L416.4 330.2 L417 330.2 L417.6 330.2 L418.2 330.2 L418.8 330.2 L419.4 330.2 L420 330.2 L420.6 330.2 L421.2 330.2 L421.8 330.2 L422.4 330.2 L423 330.2 L423.6 330.2 L424.2 330.2 L424.8 330.2 L425.4 330.2 L426 330.2 L426.6 330.2 L427.2 330.2 L427.8 330.2 L428.4 330.2 L429 330.2 L429.6 330.2 L430.2 330.2 L430.8 330.2 L431.4 330.2 L432 330.2 L432.6 330.2 L433.2 330.2 L433.8 330.2 L434.4 330.2 L435 330.2 L435.6 330.2 L436.2 330.2 L436.8 330.2 L437.4 330.2 L438 330.2 L438.6 330.2 L439.2 330.2 L439.8 330.2 L440.4 330.2 L441 330.2 L441.6 330.2 L442.2 330.2 L442.8 330.2 L443.4 330.2 L444 330.2 L444.6 330.2 L445.2 330.2 L445.8 330.2 L446.4 330.2 L447 330.2 L447.6 330.2 L448.2 330.2 L448.8 330.2 L449.4 330.2 L450 330.2 L450.6 330.2 L451.2 330.2 L451.8 330.2 L452.4 330.2 L453 330.2 L453.6 330.2 L454.2 330.2 L454.8 330.2 L455.4 330.2 L456 330.2 L456.6 330.2 L457.2 330.2 L457.8 330.2 L458.4 330.2 L459 330.2 L459.6 330.2 L460.2 330.2 L460.8 330.2 L461.4 330.2 L462 330.2 L462.6 330.2 L463.2 330.2 L463.8 330.2 L464.4 330.2 L465 330.2 L465.6 330.2 L466.2 330.2 L466.8 330.2 L467.4 330.2 L468 330.2 L468.6 330.2 L469.2 330.2 L469.8 330.2 L470.4 330.2 L471 330.2 L471.6 330.2 L472.2 330.2 L472.8 330.2 L473.4 330.2 L474 330.2 L474.6 330.2 L475.2 330.2 L475.8 330.2 L476.4 330.2 L477 330.2 L477.6 330.2 L478.2 330.2 L478.8 330.2 L479.4 330.2 L480 330.2 L480.6 330.2 L481.2 330.2 L481.8 330.2 L482.4 330.2 L483 330.2 L483.6 330.2 L484.2 330.2 L484.8 330.2 L485.5 330.2 L486.1 330.2 L486.7 330.2 L487.3 330.2 L487.9 330.2 L488.5 330.2 L489.1 330.2 L489.7 330.2 L490.3 330.2 L490.9 330.2 L491.5 330.2 L492.1 330.2 L492.7 330.2 L493.3 330.2 L493.9 330.2 L494.5 330.2 L495.1 330.2 L495.7 330.2 L496.3 330.2 L496.9 330.2 L497.5 330.2 L498.1 330.2 L498.7 330.2 L499.3 330.2 L499.9 330.2 L500.5 330.2 L501.1 330.2 L501.7 330.2 L502.3 330.2 L502.9 330.2 L503.5 330.2 L504.1 330.2 L504.7 330.2 L505.3 330.2 L505.9 330.2 L506.5 330.2 L507.1 330.2 L507.7 330.2 L508.3 330.2 L508.9 330.2 L509.5 330.2 L510.1 330.2 L510.7 330.2 L511.3 330.2 L511.9 330.2 L512.5 330.2 L513.1 330.2 L513.7 330.2 L514.3 330.2 L514.9 330.2 L515.5 330.2 L516.1 330.2 L516.7 330.2 L517.3 330.2 L517.9 330.2 L518.5 330.2 L519.1 330.2 L519.7 330.2 L520.3 330.2 L520.9 330.2 L521.5 330.2 L522.1 330.2 L522.7 330.2 L523.3 330.2 L523.9 330.2 L524.5 330.2 L525.1 330.2 L525.7 330.2 L526.3 330.2 L526.9 330.2 L527.5 330.2 L528.1 330.2 L528.7 330.2 L529.3 330.2 L529.9 330.2 L530.5 330.2 L531.1 330.2 L531.7 330.2 L532.3 330.2" fill="none" stroke="#ff0000" stroke-width="1.5" clip-path="url(#cb)" />
<path d="M70.9 361.9 L250 361.9 L250.8 361.9 L251.6 361.9 L252.4 361.9 L253.2 361.9 L254 361.9 L254.8 361.9 L255.6 361.9 L256.4 361.9 L257.2 361.9 L258 361.9 L258.8 361.9 L259.6 361.9 L260.4 361.9 L261.2 361.9 L262 361.9 L262.8 361.9 L263.6 361.9 L264.4 361.9 L265.2 361.9 L266 361.9 L266.8 361.9 L267.6 361.9 L268.4 361.9 L269.2 361.9 L270 361.9 L270.9 361.9 L271.7 361.9 L272.5 361.9 L273.3 361.9 L274.1 361.9 L274.9 361.9 L275.7 361.9 L276.5 361.9 L277.3 361.9 L278.1 361.9 L278.9 361.9 L279.7 361.9 L280.5 361.9 L281.3 361.9 L282.1 361.9 L282.9 361.8 L283.7 361.8 L284.5 361.7 L285.3 361.7 L286.1 361.6 L286.9 361.5 L287.7 361.4 L288.5 361.3 L289.3 361.2 L290.1 361 L290.9 360.8 L291.7 360.5 L292.5 360.2 L293.3 359.9 L294.1 359.5 L294.9 359.1 L295.7 358.6 L296.5 358.1 L297.3 357.6 L298.1 357 L298.9 356.5 L299.7 355.8 L300.5 355.1 L301.3 354.4 L302.1 353.7 L302.9 353 L303.7 352.2 L304.5 351.4 L305.3 350.6 L306.1 349.8 L306.9 349 L307.7 348.3 L308.5 347.6 L309.3 346.8 L310.1 346.1 L311 345.4 L311.8 344.8 L312.6 344.1 L313.4 343.5 L314.2 342.9 L315 342.4 L315.8 341.8 L316.6 341.3 L317.4 340.9 L318.2 340.5 L319 340.1 L319.8 339.7 L320.6 339.3 L321.4 339 L322.2 338.6 L323 338.3 L323.8 337.9 L324.6 337.6 L325.4 337.4 L326.2 337.1 L327 336.9 L327.8 336.7 L328.6 336.5 L329.4 336.3 L330.2 336.1 L331 336 L331.8 335.8 L332.6 335.6 L333.4 335.5 L334.2 335.4 L335 335.2 L335.8 335.1 L336.6 335 L337.4 334.9 L338.2 334.7 L339 334.6 L339.8 334.5 L340.6 334.4 L341.4 334.3 L342.2 334.2 L343 334.1 L343.8 334 L344.6 333.9 L345.4 333.9 L346.2 333.8 L347 333.7 L347.8 333.6 L348.6 333.5 L349.4 333.4 L350.2 333.4 L351.1 333.3 L351.9 333.2 L352.7 333.2 L353.5 333.1 L354.3 333 L355.1 333 L355.9 332.9 L356.7 332.9 L357.5 332.8 L358.3 332.7 L359.1 332.7 L359.9 332.6 L360.7 332.6 L361.5 332.5 L362.3 332.5 L363.1 332.4 L363.9 332.4 L364.7 332.3 L365.5 332.3 L366.3 332.3 L367.1 332.2 L367.9 332.2 L368.7 332.1 L369.5 332.1 L370.3 332.1 L371.1 332 L371.9 332 L372.7 331.9 L373.5 331.9 L374.3 331.9 L375.1 331.9 L375.9 331.8 L376.7 331.8 L377.5 331.8 L378.3 331.7 L379.1 331.7 L379.9 331.7 L380.7 331.6 L381.5 331.6 L382.3 331.6 L383.1 331.5 L383.9 331.5 L384.7 331.5 L385.5 331.5 L386.3 331.4 L387.1 331.4 L387.9 331.4 L388.7 331.4 L389.5 331.3 L390.3 331.3 L391.1 331.3 L392 331.3 L392.8 331.3 L393.6 331.2 L394.4 331.2 L395.2 331.2 L396 331.2 L396.8 331.2 L397.6 331.1 L398.4 331.1 L399.2 331.1 L400 331.1 L400.8 331.1 L401.6 331.1 L402.4 331.1 L403.2 331.1 L404 331 L404.8 331 L405.6 331 L406.4 331 L407.2 331 L408 331 L408.8 331 L409.6 331 L410.4 330.9 L411.2 330.9 L412 330.9 L412.8 330.9 L413.6 330.9 L414.4 330.9 L415.2 330.9 L416 330.9 L416.8 330.9 L417.6 330.9 L418.4 330.8 L419.2 330.8 L420 330.8 L420.8 330.8 L421.6 330.8 L422.4 330.8 L423.2 330.8 L424 330.8 L424.8 330.8 L425.6 330.8 L426.4 330.8 L427.2 330.8 L428 330.7 L428.8 330.7 L429.6 330.7 L430.4 330.7 L431.2 330.7 L432.1 330.7 L432.9 330.7 L433.7 330.7 L434.5 330.7 L435.3 330.7 L436.1 330.7 L436.9 330.7 L437.7 330.7 L438.5 330.7 L439.3 330.7 L440.1 330.7 L440.9 330.6 L441.7 330.6 L442.5 330.6 L443.3 330.6 L444.1 330.6 L444.9 330.6 L445.7 330.6 L446.5 330.6 L447.3 330.6 L448.1 330.6 L448.9 330.6 L449.7 330.6 L450.5 330.6 L451.3 330.6 L452.1 330.6 L452.9 330.6 L453.7 330.6 L454.5 330.6 L455.3 330.6 L456.1 330.6 L456.9 330.6 L457.7 330.6 L458.5 330.6 L459.3 330.6 L460.1 330.6 L460.9 330.6 L461.7 330.6 L462.5 330.6 L463.3 330.5 L464.1 330.5 L464.9 330.5 L465.7 330.5 L466.5 330.5 L467.3 330.5 L468.1 330.5 L468.9 330.5 L469.7 330.5 L470.5 330.5 L471.3 330.5 L472.2 330.5 L473 330.5 L473.8 330.5 L474.6 330.5 L475.4 330.5 L476.2 330.5 L477 330.5 L477.8 330.5 L478.6 330.5 L479.4 330.5 L480.2 330.5 L481 330.5 L481.8 330.5 L482.6 330.5 L483.4 330.5 L484.2 330.5 L485 330.5 L485.8 330.5 L486.6 330.5 L487.4 330.5 L488.2 330.5 L489 330.5 L489.8 330.5 L490.6 330.5 L491.4 330.5 L492.2 330.5 L493 330.5 L493.8 330.5 L494.6 330.4 L495.4 330.4 L496.2 330.4 L497 330.4 L497.8 330.4 L498.6 330.4 L499.4 330.4 L500.2 330.4 L501 330.4 L501.8 330.4 L502.6 330.4 L503.4 330.4 L504.2 330.4 L505 330.4 L505.8 330.4 L506.6 330.4 L507.4 330.4 L508.2 330.4 L509 330.4 L509.8 330.4 L510.6 330.4 L511.4 330.4 L512.3 330.4 L513.1 330.4 L513.9 330.4 L514.7 330.4 L515.5 330.4 L516.3 330.4 L517.1 330.4 L517.9 330.4 L518.7 330.4 L519.5 330.4 L520.3 330.4 L521.1 330.4 L521.9 330.4 L522.7 330.4 L523.5 330.4 L524.3 330.4 L525.1 330.4 L525.9 330.4 L526.7 330.4 L527.5 330.4 L528.3 330.4 L529.1 330.4 L529.9 330.4 L530.7 330.4 L531.5 330.4 L532.3 330.4" fill="none" stroke="#ffa500" stroke-width="1.5" stroke-dasharray="4 1.8" clip-path="url(#cb)" />
<path d="M70.9 330.2 L532.3 330.2" fill="none" stroke="#ff00ff" stroke-width="1.5" stroke-dasharray="1.2 1.2" clip-path="url(#cb)" />
<path d="M70.9 361.9 L250 361.9 L250.6 361.9 L251.2 361.9 L251.8 361.9 L252.4 361.9 L253 361.9 L253.6 361.9 L254.2 361.9 L254.8 361.9 L255.4 361.9 L256 361.9 L256.6 361.9 L257.2 361.9 L257.8 361.9 L258.4 361.9 L259 361.9 L259.6 361.9 L260.2 361.9 L260.8 361.9 L261.4 361.9 L262 361.9 L262.6 361.9 L263.2 361.9 L263.8 361.9 L264.4 361.9 L265 361.9 L265.6 361.9 L266.2 361.9 L266.8 361.9 L267.4 361.9 L268 361.9 L268.6 361.9 L269.2 361.9 L269.8 361.9 L270.4 361.9 L271 361.9 L271.6 361.9 L272.2 362 L272.8 362 L273.4 362 L274 362 L274.6 362 L275.2 362 L275.8 362 L276.4 362 L277 362 L277.6 362 L278.2 362 L278.8 362 L279.4 362 L280 362 L280.6 362 L281.2 362 L281.8 362 L282.4 362.1 L283 362.1 L283.6 362.1 L284.2 362.2 L284.8 362.2 L285.4 362.3 L286 362.3 L286.6 362.4 L287.2 362.4 L287.8 362.5 L288.4 362.6 L289 362.7 L289.6 362.8 L290.2 362.9 L290.8 363 L291.4 363.1 L292 363.2 L292.6 363.3 L293.2 363.5 L293.8 363.7 L294.4 363.8 L295 363.9 L295.6 364 L296.2 364 L296.8 364 L297.5 363.9 L298.1 363.8 L298.7 363.7 L299.3 363.6 L299.9 363.4 L300.5 362.9 L301.1 362.3 L301.7 361.8 L302.3 361.2 L302.9 360.6 L303.5 359.9 L304.1 359.2 L304.7 358.5 L305.3 357.5 L305.9 356.5 L306.5 355.5 L307.1 354.5 L307.7 353.5 L308.3 352.5 L308.9 351.5 L309.5 350.5 L310.1 349.5 L310.7 348.5 L311.3 347.4 L311.9 346.4 L312.5 345.5 L313.1 344.7 L313.7 343.9 L314.3 343.2 L314.9 342.5 L315.5 341.9 L316.1 341.3 L316.7 340.8 L317.3 340.3 L317.9 339.8 L318.5 339.3 L319.1 338.9 L319.7 338.5 L320.3 338.2 L320.9 337.8 L321.5 337.5 L322.1 337.2 L322.7 336.9 L323.3 336.7 L323.9 336.4 L324.5 336.2 L325.1 336 L325.7 335.8 L326.3 335.5 L326.9 335.3 L327.5 335.1 L328.1 335 L328.7 334.8 L329.3 334.6 L329.9 334.5 L330.5 334.3 L331.1 334.1 L331.7 334 L332.3 333.8 L332.9 333.7 L333.5 333.6 L334.1 333.4 L334.7 333.3 L335.3 333.2 L335.9 333.1 L336.5 333 L337.1 332.9 L337.7 332.8 L338.3 332.7 L338.9 332.6 L339.5 332.6 L340.1 332.5 L340.7 332.4 L341.3 332.3 L341.9 332.3 L342.5 332.2 L343.1 332.1 L343.7 332.1 L344.3 332 L344.9 331.9 L345.5 331.9 L346.1 331.8 L346.7 331.8 L347.3 331.7 L347.9 331.7 L348.5 331.6 L349.1 331.6 L349.7 331.5 L350.3 331.5 L350.9 331.4 L351.5 331.4 L352.1 331.3 L352.7 331.3 L353.3 331.2 L353.9 331.2 L354.5 331.1 L355.1 331.1 L355.7 331.1 L356.3 331 L356.9 331 L357.5 331 L358.1 331 L358.7 330.9 L359.3 330.9 L359.9 330.9 L360.5 330.9 L361.1 330.9 L361.7 330.9 L362.3 330.8 L362.9 330.8 L363.5 330.8 L364.1 330.8 L364.7 330.8 L365.3 330.8 L365.9 330.8 L366.5 330.8 L367.1 330.7 L367.7 330.7 L368.3 330.7 L368.9 330.7 L369.5 330.7 L370.1 330.7 L370.7 330.7 L371.3 330.7 L371.9 330.7 L372.5 330.6 L373.1 330.6 L373.7 330.6 L374.3 330.6 L374.9 330.6 L375.5 330.6 L376.1 330.6 L376.7 330.6 L377.3 330.6 L377.9 330.6 L378.5 330.6 L379.1 330.6 L379.7 330.5 L380.3 330.5 L380.9 330.5 L381.5 330.5 L382.1 330.5 L382.7 330.5 L383.3 330.5 L383.9 330.5 L384.5 330.5 L385.1 330.5 L385.7 330.5 L386.3 330.5 L386.9 330.5 L387.5 330.5 L388.1 330.5 L388.7 330.5 L389.3 330.4 L389.9 330.4 L390.5 330.4 L391.1 330.4 L391.8 330.4 L392.4 330.4 L393 330.4 L393.6 330.4 L394.2 330.4 L394.8 330.4 L395.4 330.4 L396 330.4 L396.6 330.4 L397.2 330.4 L397.8 330.4 L398.4 330.4 L399 330.4 L399.6 330.4 L400.2 330.4 L400.8 330.4 L401.4 330.4 L402 330.4 L402.6 330.4 L403.2 330.4 L403.8 330.4 L404.4 330.4 L405 330.4 L405.6 330.4 L406.2 330.4 L406.8 330.4 L407.4 330.4 L408 330.4 L408.6 330.4 L409.2 330.4 L409.8 330.4 L410.4 330.4 L411 330.4 L411.6 330.4 L412.2 330.4 L412.8 330.4 L413.4 330.4 L414 330.4 L414.6 330.4 L415.2 330.4 L415.8 330.4 L416.4 330.4 L417 330.4 L417.6 330.4 L418.2 330.4 L418.8 330.4 L419.4 330.4 L420 330.4 L420.6 330.4 L421.2 330.4 L421.8 330.4 L422.4 330.4 L423 330.4 L423.6 330.4 L424.2 330.4 L424.8 330.4 L425.4 330.4 L426 330.4 L426.6 330.4 L427.2 330.4 L427.8 330.4 L428.4 330.4 L429 330.4 L429.6 330.4 L430.2 330.4 L430.8 330.4 L431.4 330.4 L432 330.4 L432.6 330.4 L433.2 330.4 L433.8 330.4 L434.4 330.4 L435 330.4 L435.6 330.3 L436.2 330.3 L436.8 330.3 L437.4 330.3 L438 330.3 L438.6 330.3 L439.2 330.3 L439.8 330.3 L440.4 330.3 L441 330.3 L441.6 330.3 L442.2 330.3 L442.8 330.3 L443.4 330.3 L444 330.3 L444.6 330.3 L445.2 330.3 L445.8 330.3 L446.4 330.3 L447 330.3 L447.6 330.3 L448.2 330.3 L448.8 330.3 L449.4 330.3 L450 330.3 L450.6 330.3 L451.2 330.3 L451.8 330.3 L452.4 330.3 L453 330.3 L453.6 330.3 L454.2 330.3 L454.8 330.3 L455.4 330.3 L456 330.3 L456.6 330.3 L457.2 330.3 L457.8 330.3 L458.4 330.3 L459 330.3 L459.6 330.3 L460.2 330.3 L460.8 330.3 L461.4 330.3 L462 330.3 L462.6 330.3 L463.2 330.3 L463.8 330.3 L464.4 330.3 L465 330.3 L465.6 330.3 L466.2 330.3 L466.8 330.3 L467.4 330.3 L468 330.3 L468.6 330.3 L469.2 330.3 L469.8 330.3 L470.4 330.3 L471 330.3 L471.6 330.3 L472.2 330.3 L472.8 330.3 L473.4 330.3 L474 330.3 L474.6 330.3 L475.2 330.3 L475.8 330.3 L476.4 330.3 L477 330.3 L477.6 330.3 L478.2 330.3 L478.8 330.3 L479.4 330.3 L480 330.3 L480.6 330.3 L481.2 330.3 L481.8 330.3 L482.4 330.3 L483 330.3 L483.6 330.3 L484.2 330.3 L484.8 330.3 L485.5 330.3 L486.1 330.3 L486.7 330.3 L487.3 330.3 L487.9 330.3 L488.5 330.3 L489.1 330.3 L489.7 330.3 L490.3 330.3 L490.9 330.3 L491.5 330.3 L492.1 330.3 L492.7 330.3 L493.3 330.3 L493.9 330.3 L494.5 330.3 L495.1 330.3 L495.7 330.3 L496.3 330.3 L496.9 330.3 L497.5 330.3 L498.1 330.3 L498.7 330.3 L499.3 330.3 L499.9 330.3 L500.5 330.3 L501.1 330.3 L501.7 330.3 L502.3 330.3 L502.9 330.3 L503.5 330.3 L504.1 330.3 L504.7 330.3 L505.3 330.3 L505.9 330.3 L506.5 330.3 L507.1 330.3 L507.7 330.3 L508.3 330.3 L508.9 330.3 L509.5 330.3 L510.1 330.3 L510.7 330.3 L511.3 330.3 L511.9 330.3 L512.5 330.3 L513.1 330.3 L513.7 330.3 L514.3 330.3 L514.9 330.3 L515.5 330.3 L516.1 330.3 L516.7 330.3 L517.3 330.3 L517.9 330.3 L518.5 330.3 L519.1 330.3 L519.7 330.3 L520.3 330.3 L520.9 330.3 L521.5 330.3 L522.1 330.3 L522.7 330.3 L523.3 330.3 L523.9 330.3 L524.5 330.3 L525.1 330.3 L525.7 330.3 L526.3 330.3 L526.9 330.3 L527.5 330.3 L528.1 330.3 L528.7 330.3 L529.3 330.3 L529.9 330.3 L530.5 330.3 L531.1 330.3 L531.7 330.3 L532.3 330.3" fill="none" stroke="#0000ff" stroke-width="1.5" stroke-dasharray="5.8 1.9 1.2 1.7" clip-path="url(#cb)" />
<path d="M70.9 330.1 L532.3 330.1" fill="none" stroke="#ffb6c1" stroke-width="1.5" stroke-dasharray="2.2 1.5 2.2 5.8" clip-path="url(#cb)" />
<path d="M70.9 266.2 L250 266.2 L250.8 266.2 L251.6 266.2 L252.4 266.2 L253.2 266.2 L254 266.2 L254.8 266.2 L255.6 266.2 L256.4 266.2 L257.2 266.2 L258 266.2 L258.8 266.2 L259.6 266.2 L260.4 266.2 L261.2 266.2 L262 266.2 L262.8 266.2 L263.6 266.2 L264.4 266.2 L265.2 266.3 L266 266.3 L266.8 266.3 L267.6 266.3 L268.4 266.3 L269.2 266.3 L270 266.3 L270.9 266.3 L271.7 266.3 L272.5 266.3 L273.3 266.3 L274.1 266.3 L274.9 266.4 L275.7 266.4 L276.5 266.4 L277.3 266.4 L278.1 266.4 L278.9 266.5 L279.7 266.5 L280.5 266.6 L281.3 266.7 L282.1 266.8 L282.9 266.9 L283.7 267.1 L284.5 267.2 L285.3 267.4 L286.1 267.6 L286.9 267.8 L287.7 268.2 L288.5 268.7 L289.3 269.2 L290.1 269.8 L290.9 270.5 L291.7 271.2 L292.5 272.2 L293.3 273.4 L294.1 274.8 L294.9 276.3 L295.7 277.8 L296.5 279.5 L297.3 281.4 L298.1 283.3 L298.9 285.4 L299.7 287.4 L300.5 289.4 L301.3 291.5 L302.1 293.6 L302.9 295.8 L303.7 297.9 L304.5 300.1 L305.3 302.3 L306.1 304.6 L306.9 306.7 L307.7 308.7 L308.5 310.5 L309.3 312.3 L310.1 314 L311 315.5 L311.8 316.9 L312.6 318.1 L313.4 319.2 L314.2 320.2 L315 321.1 L315.8 322 L316.6 322.7 L317.4 323.4 L318.2 323.9 L319 324.5 L319.8 325 L320.6 325.4 L321.4 325.9 L322.2 326.2 L323 326.6 L323.8 326.8 L324.6 327.1 L325.4 327.3 L326.2 327.5 L327 327.7 L327.8 327.9 L328.6 328 L329.4 328.2 L330.2 328.3 L331 328.4 L331.8 328.5 L332.6 328.6 L333.4 328.7 L334.2 328.8 L335 328.9 L335.8 328.9 L336.6 329 L337.4 329.1 L338.2 329.1 L339 329.2 L339.8 329.3 L340.6 329.3 L341.4 329.4 L342.2 329.4 L343 329.5 L343.8 329.5 L344.6 329.5 L345.4 329.6 L346.2 329.6 L347 329.6 L347.8 329.7 L348.6 329.7 L349.4 329.7 L350.2 329.7 L351.1 329.7 L351.9 329.8 L352.7 329.8 L353.5 329.8 L354.3 329.8 L355.1 329.9 L355.9 329.9 L356.7 329.9 L357.5 329.9 L358.3 329.9 L359.1 329.9 L359.9 330 L360.7 330 L361.5 330 L362.3 330 L363.1 330 L363.9 330 L364.7 330 L365.5 330 L366.3 330 L367.1 330 L367.9 330 L368.7 330 L369.5 330 L370.3 330 L371.1 330 L371.9 330 L372.7 330 L373.5 330 L374.3 330 L375.1 330 L375.9 330 L376.7 330 L377.5 330 L378.3 330 L379.1 330 L379.9 330 L380.7 330 L381.5 330 L382.3 330 L383.1 330 L383.9 330 L384.7 330 L385.5 330 L386.3 330 L387.1 330 L387.9 330 L388.7 330 L389.5 330 L390.3 330 L391.1 330 L392 330 L392.8 330 L393.6 330 L394.4 330 L395.2 330 L396 330 L396.8 330 L397.6 330 L398.4 330 L399.2 330 L400 330 L400.8 330 L401.6 330 L402.4 330 L403.2 330 L404 330 L404.8 330 L405.6 330.1 L406.4 330.1 L407.2 330.1 L408 330.1 L408.8 330.1 L409.6 330.1 L410.4 330.1 L411.2 330.1 L412 330.1 L412.8 330.1 L413.6 330.1 L414.4 330.1 L415.2 330.1 L416 330.1 L416.8 330.1 L417.6 330.1 L418.4 330.1 L419.2 330.1 L420 330.1 L420.8 330.1 L421.6 330.1 L422.4 330.1 L423.2 330.1 L424 330.1 L424.8 330.1 L425.6 330.1 L426.4 330.1 L427.2 330.1 L428 330.1 L428.8 330.1 L429.6 330.1 L430.4 330.1 L431.2 330.1 L432.1 330.1 L432.9 330.1 L433.7 330.1 L434.5 330.1 L435.3 330.1 L436.1 330.1 L436.9 330.1 L437.7 330.1 L438.5 330.1 L439.3 330.1 L440.1 330.1 L440.9 330.1 L441.7 330.1 L442.5 330.1 L443.3 330.1 L444.1 330.1 L444.9 330.1 L445.7 330.1 L446.5 330.1 L447.3 330.1 L448.1 330.1 L448.9 330.1 L449.7 330.1 L450.5 330.1 L451.3 330.1 L452.1 330.1 L452.9 330.1 L453.7 330.1 L454.5 330.1 L455.3 330.1 L456.1 330.1 L456.9 330.1 L457.7 330.1 L458.5 330.1 L459.3 330.1 L460.1 330.1 L460.9 330.1 L461.7 330.1 L462.5 330.1 L463.3 330.1 L464.1 330.1 L464.9 330.1 L465.7 330.1 L466.5 330.1 L467.3 330.1 L468.1 330.1 L468.9 330.1 L469.7 330.1 L470.5 330.1 L471.3 330.1 L472.2 330.1 L473 330.1 L473.8 330.1 L474.6 330.1 L475.4 330.1 L476.2 330.1 L477 330.1 L477.8 330.1 L478.6 330.1 L479.4 330.1 L480.2 330.1 L481 330.1 L481.8 330.1 L482.6 330.1 L483.4 330.1 L484.2 330.1 L485 330.1 L485.8 330.1 L486.6 330.1 L487.4 330.1 L488.2 330.1 L489 330.1 L489.8 330.1 L490.6 330.1 L491.4 330.1 L492.2 330.1 L493 330.1 L493.8 330.1 L494.6 330.1 L495.4 330.1 L496.2 330.1 L497 330.1 L497.8 330.1 L498.6 330.1 L499.4 330.1 L500.2 330.1 L501 330.1 L501.8 330.1 L502.6 330.1 L503.4 330.1 L504.2 330.1 L505 330.1 L505.8 330.1 L506.6 330.1 L507.4 330.1 L508.2 330.1 L509 330.1 L509.8 330.1 L510.6 330.1 L511.4 330.1 L512.3 330.1 L513.1 330.1 L513.9 330.1 L514.7 330.1 L515.5 330.1 L516.3 330.1 L517.1 330.1 L517.9 330.1 L518.7 330.1 L519.5 330.1 L520.3 330.1 L521.1 330.1 L521.9 330.1 L522.7 330.1 L523.5 330.1 L524.3 330.1 L525.1 330.1 L525.9 330.1 L526.7 330.1 L527.5 330.1 L528.3 330.1 L529.1 330.1 L529.9 330.1 L530.7 330.1 L531.5 330.1 L532.3 330.1" fill="none" stroke="#a52a2a" stroke-width="1.5" clip-path="url(#cb)" />
<rect x="71" y="246" width="460.6" height="126" fill="none" stroke="#000" stroke-width="1.2"/>
<line x1="186.2" y1="372" x2="186.2" y2="366.5" stroke="#000" stroke-width="1.0" />
<line x1="186.2" y1="246" x2="186.2" y2="251.5" stroke="#000" stroke-width="1.0" />
<line x1="301.3" y1="372" x2="301.3" y2="366.5" stroke="#000" stroke-width="1.0" />
<line x1="301.3" y1="246" x2="301.3" y2="251.5" stroke="#000" stroke-width="1.0" />
<line x1="416.5" y1="372" x2="416.5" y2="366.5" stroke="#000" stroke-width="1.0" />
<line x1="416.5" y1="246" x2="416.5" y2="251.5" stroke="#000" stroke-width="1.0" />
<line x1="71" y1="288" x2="76.5" y2="288" stroke="#000" stroke-width="1.0" />
<line x1="531.6" y1="288" x2="526.1" y2="288" stroke="#000" stroke-width="1.0" />
<line x1="71" y1="330" x2="76.5" y2="330" stroke="#000" stroke-width="1.0" />
<line x1="531.6" y1="330" x2="526.1" y2="330" stroke="#000" stroke-width="1.0" />
<text x="62.8" y="250.6" text-anchor="end" font-family="'Liberation Sans', sans-serif" font-size="13.3" fill="#000" >0.2</text>
<text x="62.8" y="292.6" text-anchor="end" font-family="'Liberation Sans', sans-serif" font-size="13.3" fill="#000" >0.1</text>
<text x="62.8" y="334.6" text-anchor="end" font-family="'Liberation Sans', sans-serif" font-size="13.3" fill="#000" >0</text>
<text x="62.8" y="376.6" text-anchor="end" font-family="'Liberation Sans', sans-serif" font-size="13.3" fill="#000" >-0.1</text>
<text x="71" y="390" text-anchor="middle" font-family="'Liberation Sans', sans-serif" font-size="13.3" fill="#000" >-100</text>
<text x="186.3" y="390" text-anchor="middle" font-family="'Liberation Sans', sans-serif" font-size="13.3" fill="#000" >-50</text>
<text x="303" y="390" text-anchor="middle" font-family="'Liberation Sans', sans-serif" font-size="13.3" fill="#000" >0</text>
<text x="418.3" y="390" text-anchor="middle" font-family="'Liberation Sans', sans-serif" font-size="13.3" fill="#000" >50</text>
<text x="533.4" y="390" text-anchor="middle" font-family="'Liberation Sans', sans-serif" font-size="13.3" fill="#000" >100</text>
<text x="498.6" y="264.2" text-anchor="middle" font-family="'Liberation Sans', sans-serif" font-size="13.3" fill="#000" >(b)</text>
</g>
<g id="panelC">
<path d="M148.3 526.3 L149.2 525 L150.2 519.4 L151.2 523.7 L152.1 519.9 L153.1 525.3 L154 526.8 L154.5 526.3 L155.1 525.7 L155.8 521.6 L156.4 526.2 L156.6 527.2 L157.4 525.7 L157.6 523 L158 510 L158.3 497.8 L158.6 510 L159 523 L159.9 516.7 L160.7 525.3 L161.5 512.7 L162.3 521.1 L163.1 512.5 L163.9 523.7 L164.8 517.7 L165.6 525.6 L166.4 522.4 L167.2 526.2 L167.8 526.4 L168.6 525.4 L169.4 520.4 L170.2 524.1 L170.9 515.9 L171.7 525.3 L172.5 514.7 L173.3 524.8 L174.1 517.7 L174.8 525.3 L175.6 521.6 L176.4 525.3 L177.2 526.6 L178 526.9 L178.8 525.9 L179.6 521.6 L180.5 525.4 L181.3 518.6 L182.1 524.9 L182.9 518.8 L183.8 524.7 L184.6 523 L185.4 526.2 L187.9 526.4 L188.7 525.7 L189.5 523.7 L190.4 525.6 L191.2 522.1 L192 525.2 L192.8 522 L193.7 526.2 L194.5 524.2 L195.3 526.2 L199.4 526.8 L200.2 525.5 L201.1 522.9 L201.9 524.8 L202.7 519.1 L203.6 525.3 L204.4 519.6 L205.2 525.7 L206 522.8 L206.9 525.3 L207.7 527.2 L209.4 526.8 L210.2 525.5 L211 522.4 L211.9 525.6 L212.7 520.3 L213.5 524.8 L214.3 522.2 L215.2 526 L216 524.5 L216.8 526.2 L221.7 526.6 L222.8 526 L223.9 523 L225 526.2 L243 525.5 L244 522.5 L245 525.5 L246.5 522 L248 525 L249.5 521.5 L250.6 524.5 L251.4 520.5 L252 522.5 L252.2 521.2 L252.4 520.3 L252.6 519.8 L252.9 519.6 L253.2 519.9 L253.6 520.6 L253.8 520.4 L254 519.8 L254.2 519 L254.4 518.2 L254.6 517.3 L254.9 516.6 L255.2 516 L255.6 515.5 L256 514.9 L256.5 514.4 L256.9 513.8 L257.4 513.3 L257.9 512.8 L258.3 512.2 L258.8 511.7 L259.2 511.1 L259.6 510.6 L260.1 510 L260.5 509.5 L260.9 508.9 L261.4 508.4 L261.8 507.8 L262.2 507.3 L262.7 506.7 L263.1 506.2 L263.5 505.6 L263.9 505 L264.4 504.5 L264.8 503.9 L265.2 503.4 L265.7 502.8 L266.1 502.3 L266.5 501.7 L266.9 501.2 L267.4 500.6 L267.8 500.1 L268.2 499.5 L268.7 499 L269.1 498.4 L269.5 497.9 L270 497.3 L270.4 496.8 L270.8 496.2 L271.3 495.7 L271.7 495.1 L272.1 494.6 L272.6 494 L273 493.5 L273.5 492.9 L273.9 492.4 L274.4 491.9 L274.8 491.3 L275.3 490.8 L275.7 490.2 L276.2 489.7 L276.6 489.2 L277.1 488.6 L277.5 488.1 L278 487.6 L278.5 487.1 L278.9 486.6 L279.4 486 L279.9 485.5 L280.4 485 L280.9 484.5 L281.4 484 L281.9 483.5 L282.4 483 L282.9 482.5 L283.4 482.1 L283.9 481.6 L284.4 481.2 L285 480.7 L285.6 480.3 L286.1 479.9 L286.8 479.6 L287.4 479.3 L288.1 479.1 L288.8 478.9 L289.3 479 L289.9 479.6 L290.3 480.2 L290.7 480.8 L291 481.5 L291.2 482.1 L291.4 482.8 L291.6 483.5 L291.8 484.2 L291.9 484.8 L292.1 485.5 L292.2 486.2 L292.3 486.9 L292.4 487.6 L292.5 488.3 L292.6 489 L292.6 489.7 L292.7 490.4 L292.7 491.1 L292.8 491.8 L292.8 492.5 L292.9 493.2 L292.9 493.9 L293 494.6 L293 495.3 L293 496 L293.1 496.7 L293.1 497.4 L293.1 498.1 L293.1 498.8 L293.2 499.5 L293.2 500.2 L293.2 500.9 L293.2 501.6 L293.2 502.3 L293.2 501.6 L293.2 500.9 L293.2 500.2 L293.3 499.4 L293.3 498.7 L293.3 498 L293.4 497.3 L293.4 496.6 L293.5 495.9 L293.5 495.2 L293.6 494.5 L293.7 493.8 L293.7 493.1 L293.8 492.4 L293.9 491.7 L294 491 L294 490.3 L294.1 489.6 L294.2 488.9 L294.3 488.2 L294.5 487.5 L294.6 486.8 L294.8 486.1 L294.9 485.4 L295.1 484.7 L295.3 484 L296 485.6 L296.1 484.9 L296.3 484.2 L296.4 483.5 L296.5 482.8 L296.7 482.1 L296.8 481.5 L297 480.8 L297.2 480.1 L297.3 479.4 L297.5 478.7 L297.7 478 L297.8 477.3 L298 476.6 L298.2 475.9 L298.4 475.2 L298.6 474.5 L298.8 473.8 L299 473.2 L299.3 472.5 L299.5 471.9 L299.8 471.3 L300.2 470.8 L300.6 470.2 L301.1 469.6 L301.7 469.1 L302.2 468.7 L302.8 468.3 L303.4 468 L304 467.7 L304.6 467.4 L305.3 467.1 L306 466.9 L306.7 466.7 L307.4 466.6 L308.1 466.5 L308.8 466.4 L309.5 466.4 L310.3 466.4 L311 466.4 L311.7 466.4 L312.4 466.4 L313.1 466.4 L313.7 466.4 L314.4 466.6 L315 467 L315.6 467.5 L316.1 468 L316.6 468.6 L317 469.1 L317.4 469.7 L317.7 470.3 L318 471 L319 470.2 L320 469.5 L321 468.7 L322 467.9 L323 467 L324 466.1 L325 465.3 L326 464.6 L327 464 L328 463.4 L329 462.9 L330 462.4 L331 462 L332 461.5 L333 461.1 L334 460.7 L335 460.3 L336 459.9 L337 459.6 L338 459.2 L339 458.9 L340 458.6 L341 458.2 L342 457.9 L343 457.6 L344 457.4 L345 457.1 L346 456.8 L347 456.5 L348 456.3 L349 456 L350 455.8 L351 455.5 L352 455.3 L353 455.1 L354.1 454.8 L355.1 454.6 L356.1 454.3 L357.1 454.1 L358.1 453.9 L359.1 453.7 L360.1 453.5 L361.1 453.2 L362.1 453.1 L363.1 452.9 L364.1 452.7 L365.1 452.5 L366.1 452.4 L367.1 452.3 L368.1 452.1 L369.1 452 L370.1 451.9 L371.1 451.7 L372.1 451.6 L373.1 451.5 L374.1 451.4 L375.1 451.3 L376.1 451.2 L377.1 451.1 L378.1 451 L379.1 450.9 L380.1 450.8 L381.1 450.7 L382.1 450.6 L383.1 450.5 L384.1 450.4 L385.1 450.3 L386.1 450.2 L387.1 450.1 L388.1 450 L389.1 450 L390.1 449.9 L391.1 449.8 L392.1 449.7 L393.1 449.6 L394.1 449.6 L395.1 449.5 L396.1 449.4 L397.1 449.3 L398.1 449.3 L399.1 449.2 L400.1 449.1 L401.1 449 L402.1 449 L403.1 448.9 L404.1 448.8 L405.1 448.8 L406.1 448.7 L407.1 448.6 L408.1 448.6 L409.1 448.5 L410.1 448.4 L411.1 448.4 L412.1 448.3 L413.1 448.3 L414.1 448.2 L415.1 448.1 L416.1 448.1 L417.1 448 L418.1 448 L419.1 447.9 L420.1 447.8 L421.1 447.8 L422.1 447.7 L423.1 447.7 L424.1 447.6 L425.1 447.6 L426.2 447.5 L427.2 447.5 L428.2 447.4 L429.2 447.3 L430.2 447.3 L431.2 447.2 L432.2 447.2 L433.2 447.1 L434.2 447.1 L435.2 447 L436.2 447 L437.2 446.9 L438.2 446.9 L439.2 446.8 L440.2 446.8 L441.2 446.7 L442.2 446.7 L443.2 446.6 L444.2 446.5 L445.2 446.5 L446.2 446.4 L447.2 446.4 L448.2 446.3 L449.2 446.3 L450.2 446.2 L451.2 446.2 L452.2 446.1 L453.2 446.1 L454.2 446 L455.2 446 L456.2 445.9 L457.2 445.9 L458.2 445.8 L459.2 445.8 L460.2 445.7 L461.2 445.7 L462.2 445.6 L463.2 445.6 L464.2 445.6 L465.2 445.5 L466.2 445.5 L467.2 445.4 L468.2 445.4 L469.2 445.3 L470.2 445.3 L471.2 445.2 L472.2 445.2 L473.2 445.1 L474.2 445.1 L475.2 445 L476.2 445 L477.2 444.9 L478.2 444.9 L479.2 444.9 L480.2 444.8 L481.2 444.8 L482.2 444.7 L483.2 444.7 L484.2 444.6 L485.2 444.6 L486.2 444.5 L487.2 444.5 L488.2 444.4 L489.2 444.4 L490.2 444.3 L491.2 444.3 L492.2 444.3 L493.2 444.2 L494.2 444.2 L495.2 444.1 L496.2 444.1 L497.3 444 L498.3 444 L499.3 443.9 L500.3 443.9 L501.3 443.8 L502.3 443.8 L503.3 443.8 L504.3 443.7 L505.3 443.7 L506.3 443.6 L507.3 443.6 L508.3 443.5 L509.3 443.5 L510.3 443.4 L511.3 443.4 L512.3 443.4 L513.3 443.3 L514.3 443.3 L515.3 443.2 L516.3 443.2 L517.3 443.1 L518.3 443.1 L519.3 443.1 L520.3 443 L521.3 443 L522.3 442.9 L523.3 442.9 L524.3 442.8 L525.3 442.8 L526.3 442.8 L527.3 442.7 L528.3 442.7 L529.3 442.6 L530.3 442.6 L531.3 442.5 L532.3 442.5" fill="none" stroke="#ff0000" stroke-width="1.5" clip-path="url(#cc)" stroke-linejoin="round"/>
<path d="M148.3 526.3 L149.2 525 L150.2 519.4 L151.2 523.7 L152.1 519.9 L153.1 525.3 L154 526.8 L154.5 526.3 L155.1 525.7 L155.8 521.6 L156.4 526.2 L156.6 527.2 L157.4 525.7 L157.6 523 L158 510 L158.3 497.8 L158.6 510 L159 523 L159.9 516.7 L160.7 525.3 L161.5 512.7 L162.3 521.1 L163.1 512.5 L163.9 523.7 L164.8 517.7 L165.6 525.6 L166.4 522.4 L167.2 526.2 L167.8 526.4 L168.6 525.4 L169.4 520.4 L170.2 524.1 L170.9 515.9 L171.7 525.3 L172.5 514.7 L173.3 524.8 L174.1 517.7 L174.8 525.3 L175.6 521.6 L176.4 525.3 L177.2 526.6 L178 526.9 L178.8 525.9 L179.6 521.6 L180.5 525.4 L181.3 518.6 L182.1 524.9 L182.9 518.8 L183.8 524.7 L184.6 523 L185.4 526.2 L187.9 526.4 L188.7 525.7 L189.5 523.7 L190.4 525.6 L191.2 522.1 L192 525.2 L192.8 522 L193.7 526.2 L194.5 524.2 L195.3 526.2 L199.4 526.8 L200.2 525.5 L201.1 522.9 L201.9 524.8 L202.7 519.1 L203.6 525.3 L204.4 519.6 L205.2 525.7 L206 522.8 L206.9 525.3 L207.7 527.2 L209.4 526.8 L210.2 525.5 L211 522.4 L211.9 525.6 L212.7 520.3 L213.5 524.8 L214.3 522.2 L215.2 526 L216 524.5 L216.8 526.2 L221.7 526.6 L222.8 526 L223.9 523 L225 526.2" fill="none" stroke="#ffa500" stroke-width="1.6" stroke-dasharray="3.6 1.4" clip-path="url(#cc)" stroke-linejoin="round"/>
<path d="M254.5 525.5 L254.8 524.8 L255 524.2 L255.3 523.5 L255.6 522.9 L256 522.3 L256.4 521.7 L256.7 521.1 L257.1 520.6 L257.5 520 L257.9 519.4 L258.4 518.9 L258.8 518.3 L259.2 517.7 L259.7 517.2 L260.1 516.6 L260.6 516.1 L261 515.5 L261.4 514.9 L261.9 514.4 L262.3 513.8 L262.7 513.2 L263.1 512.6 L263.5 512.1 L263.9 511.5 L264.3 510.9 L264.7 510.3 L265.1 509.7 L265.5 509.2 L265.9 508.6 L266.3 508 L266.7 507.4 L267.1 506.8 L267.5 506.3 L267.9 505.7 L268.3 505.1 L268.7 504.5 L269.1 504 L269.5 503.4 L270 502.8 L270.4 502.3 L270.8 501.7 L271.2 501.1 L271.7 500.6 L272.1 500 L272.5 499.5 L273 498.9 L273.4 498.4 L273.8 497.8 L274.3 497.2 L274.7 496.7 L275.2 496.1 L275.6 495.6 L276 495 L276.5 494.5 L276.9 493.9 L277.3 493.4 L277.8 492.8 L278.2 492.2 L278.6 491.7 L279 491.1 L279.4 490.5 L279.8 489.9 L280.2 489.4 L280.6 488.8 L281 488.2 L281.4 487.6 L281.8 487.1 L282.3 486.5 L282.7 485.9 L283.1 485.3 L283.5 484.8 L283.9 484.2 L284.3 483.6 L284.7 483 L285.1 482.5 L285.5 481.9 L285.9 481.3 L286.3 480.7 L286.7 480.1 L287.2 479.6 L287.6 479 L288 478.5 L288.5 477.9 L288.9 477.4 L289.4 476.8 L289.9 476.3 L290.4 475.9 L291 475.4 L291.6 475 L292.3 474.6 L292.9 474.4 L293.4 474.5 L294 474.9 L294.5 475.5 L294.9 476.3 L295.2 476.9 L295.4 477.5 L295.6 478.2 L295.7 478.8 L295.8 479.5 L295.9 480.2 L296 480.9 L296.1 481.6 L296.2 482.3 L296.3 483.1 L296.4 483.8 L296.4 484.5 L296.5 485.3 L296.5 486 L296.6 486.7 L296.6 487.4 L296.6 488.1 L296.7 488.8 L296.7 489.5 L296.8 490.2 L296.8 490.9 L296.8 491.6 L296.9 492.3 L296.9 493 L296.9 493.7 L297 494.4 L297 495.1 L297 495.8 L297 496.6 L297 497.3 L297.1 498 L297.1 498.7 L297.1 499.4 L297.1 500.1 L297.1 500.8 L297.1 501.5 L297.1 500.7 L297.1 499.9 L297.1 499.2 L297.1 498.4 L297.1 497.7 L297.1 496.9 L297.1 496.2 L297.2 495.5 L297.2 494.8 L297.2 494 L297.2 493.3 L297.2 492.6 L297.3 491.9 L297.3 491.2 L297.3 490.6 L297.4 489.9 L297.4 489.2 L297.5 488.5 L297.5 487.9 L297.6 487.2 L297.6 486.6 L297.7 485.9 L297.8 485.2 L298 484.6 L298.4 484 L299.2 502.3 L299.2 501.6 L299.2 500.9 L299.2 500.2 L299.2 499.5 L299.2 498.8 L299.2 498.1 L299.2 497.4 L299.2 496.7 L299.3 496 L299.3 495.3 L299.3 494.6 L299.3 493.9 L299.3 493.2 L299.3 492.5 L299.4 491.8 L299.4 491.1 L299.4 490.4 L299.4 489.7 L299.4 489 L299.5 488.3 L299.5 487.6 L299.5 486.9 L299.6 486.2 L299.6 485.5 L299.6 484.8 L299.6 484.1 L299.7 483.4 L299.7 482.7 L299.7 482 L299.8 481.3 L299.8 480.6 L299.8 479.9 L299.9 479.2 L299.9 478.5 L300 477.8 L300 477 L300.1 476.3 L300.2 475.6 L300.2 474.9 L300.3 474.2 L300.4 473.5 L300.5 472.8 L300.6 472.1 L300.8 471.5 L300.9 470.8 L301 470.2 L301.2 469.6 L301.5 468.9 L301.9 468.3 L302.4 467.7 L302.9 467.1 L303.4 466.6 L303.9 466.1 L304.4 465.7 L304.9 465.4 L305.5 465 L306.2 464.8 L306.8 464.5 L307.5 464.2 L308.2 464 L308.9 463.8 L309.6 463.6 L310.2 463.4 L310.9 463.1 L311.6 462.9 L312.3 462.6 L313 462.4 L313.7 462.2 L314.4 462 L315.1 461.9 L315.7 461.8 L316.3 462 L316.8 462.5 L317.2 476 L318 442.8 L319 448.1 L320 450.1 L321 451.2 L322 451.8 L323 452.4 L324 452.8 L325 453.1 L326 453.5 L327 453.8 L328 454 L329 454.4 L330 454.7 L331 455 L332 455.3 L333 455.6 L334 455.8 L335 456.1 L336 456.3 L337 456.6 L338 456.8 L339 457 L340 457.2 L341 457.4 L342 457.6 L343 457.8 L344 458 L345 458.1 L346 458.3 L347 458.5 L348 458.6 L349 458.8 L350 458.9 L351 459 L352 459.2 L353 459.3 L354.1 459.4 L355.1 459.5 L356.1 459.6 L357.1 459.7 L358.1 459.8 L359.1 459.9 L360.1 460 L361.1 460.1 L362.1 460.2 L363.1 460.3 L364.1 460.4 L365.1 460.5 L366.1 460.6 L367.1 460.7 L368.1 460.8 L369.1 460.9 L370.1 460.9 L371.1 461 L372.1 461.1 L373.1 461.2 L374.1 461.3 L375.1 461.3 L376.1 461.4 L377.1 461.5 L378.1 461.6 L379.1 461.6 L380.1 461.7 L381.1 461.8 L382.1 461.8 L383.1 461.9 L384.1 462 L385.1 462 L386.1 462.1 L387.1 462.2 L388.1 462.2 L389.1 462.3 L390.1 462.4 L391.1 462.5 L392.1 462.5 L393.1 462.6 L394.1 462.7 L395.1 462.7 L396.1 462.8 L397.1 462.9 L398.1 462.9 L399.1 463 L400.1 463.1 L401.1 463.1 L402.1 463.2 L403.1 463.3 L404.1 463.3 L405.1 463.4 L406.1 463.4 L407.1 463.5 L408.1 463.6 L409.1 463.6 L410.1 463.7 L411.1 463.8 L412.1 463.8 L413.1 463.9 L414.1 463.9 L415.1 464 L416.1 464.1 L417.1 464.1 L418.1 464.2 L419.1 464.2 L420.1 464.3 L421.1 464.3 L422.1 464.4 L423.1 464.5 L424.1 464.5 L425.1 464.6 L426.2 464.6 L427.2 464.7 L428.2 464.7 L429.2 464.8 L430.2 464.9 L431.2 464.9 L432.2 465 L433.2 465 L434.2 465.1 L435.2 465.1 L436.2 465.2 L437.2 465.3 L438.2 465.3 L439.2 465.4 L440.2 465.4 L441.2 465.5 L442.2 465.6 L443.2 465.6 L444.2 465.7 L445.2 465.8 L446.2 465.8 L447.2 465.9 L448.2 465.9 L449.2 466 L450.2 466.1 L451.2 466.1 L452.2 466.2 L453.2 466.2 L454.2 466.3 L455.2 466.4 L456.2 466.4 L457.2 466.5 L458.2 466.6 L459.2 466.6 L460.2 466.7 L461.2 466.7 L462.2 466.8 L463.2 466.9 L464.2 466.9 L465.2 467 L466.2 467.1 L467.2 467.1 L468.2 467.2 L469.2 467.2 L470.2 467.3 L471.2 467.4 L472.2 467.4 L473.2 467.5 L474.2 467.5 L475.2 467.6 L476.2 467.6 L477.2 467.7 L478.2 467.8 L479.2 467.8 L480.2 467.9 L481.2 467.9 L482.2 468 L483.2 468 L484.2 468.1 L485.2 468.1 L486.2 468.2 L487.2 468.3 L488.2 468.3 L489.2 468.4 L490.2 468.4 L491.2 468.5 L492.2 468.5 L493.2 468.6 L494.2 468.6 L495.2 468.7 L496.2 468.7 L497.3 468.8 L498.3 468.8 L499.3 468.9 L500.3 468.9 L501.3 469 L502.3 469.1 L503.3 469.1 L504.3 469.2 L505.3 469.2 L506.3 469.3 L507.3 469.3 L508.3 469.4 L509.3 469.4 L510.3 469.5 L511.3 469.5 L512.3 469.6 L513.3 469.6 L514.3 469.7 L515.3 469.7 L516.3 469.8 L517.3 469.8 L518.3 469.8 L519.3 469.9 L520.3 469.9 L521.3 470 L522.3 470 L523.3 470.1 L524.3 470.1 L525.3 470.2 L526.3 470.2 L527.3 470.3 L528.3 470.3 L529.3 470.4 L530.3 470.4 L531.3 470.5 L532.3 470.5" fill="none" stroke="#ffa500" stroke-width="1.5" stroke-dasharray="4 1.8" clip-path="url(#cc)" />
<path d="M321.6 525 L321.8 524.3 L322 523.7 L322.3 523.1 L322.7 522.5 L323.1 521.9 L323.5 521.4 L324 520.8 L324.5 520.3 L325 519.8 L325.5 519.3 L326 518.8 L326.6 518.3 L327.1 517.8 L327.6 517.4 L328.1 516.9 L328.7 516.5 L329.2 516 L329.8 515.6 L330.3 515.1 L330.9 514.7 L331.5 514.3 L332.1 513.9 L332.6 513.5 L333.2 513.1 L333.8 512.7 L334.4 512.4 L335 512 L335.6 511.7 L336.2 511.4 L336.9 511 L337.5 510.7 L338.1 510.4 L338.8 510.1 L339.4 509.8 L340.1 509.5 L340.7 509.2 L341.3 509 L342 508.7 L342.6 508.4 L343.3 508.1 L343.9 507.8 L344.6 507.6 L345.3 507.3 L345.9 507.1 L346.6 506.8 L347.3 506.6 L347.9 506.4 L348.6 506.3 L349.3 506.1 L350 506 L350.7 505.8 L351.4 505.7 L352.1 505.5 L352.8 505.4 L353.5 505.3 L354.2 505.2 L354.8 505.2 L355.5 505.2 L356.2 505.3 L356.9 505.4 L357.7 505.6 L358.4 505.9 L359 506.1 L359.7 506.5 L360.3 506.8 L360.8 507.1 L361.3 507.5 L361.8 507.9 L362.3 508.4 L362.8 509 L363.2 509.6 L363.6 510.2 L364 510.9 L364.4 511.5 L364.7 512.1 L365 512.7 L365.3 513.3 L365.7 514 L365.9 514.6 L366.2 515.3 L366.4 516 L366.6 516.7 L366.8 517.3 L366.9 518 L367 518.7 L367.2 519.4 L367.3 520.1 L367.4 520.7 L367.5 521.4 L367.5 522.1 L367.6 522.9 L367.7 523.6 L367.7 524.3 L367.7 525 L367.7 524.3 L367.7 523.6 L367.8 522.8 L367.8 522.1 L367.9 521.4 L367.9 520.7 L368 520 L368.1 519.3 L368.2 518.6 L368.3 517.9 L368.4 517.2 L368.5 516.6 L368.6 515.9 L368.8 515.2 L368.9 514.5 L369 513.9 L369.2 513.2 L369.4 512.5 L369.6 511.9 L369.8 511.2 L370.1 510.5 L370.3 509.9 L370.6 509.2 L371 508.6 L371.3 507.9 L371.6 507.3 L371.9 506.7 L372.3 506.1 L372.6 505.5 L373 504.9 L373.4 504.3 L373.7 503.7 L374.2 503.1 L374.6 502.6 L375 502 L375.5 501.5 L376 500.9 L376.4 500.4 L376.9 499.9 L377.4 499.4 L377.9 498.9 L378.4 498.5 L379 498 L379.5 497.6 L380.1 497.2 L380.6 496.7 L381.2 496.3 L381.8 495.9 L382.4 495.5 L383 495.2 L383.6 494.8 L384.3 494.5 L384.9 494.2 L385.5 493.9 L386.1 493.6 L386.8 493.4 L387.4 493.1 L388.1 492.8 L388.8 492.6 L389.5 492.4 L390.1 492.2 L390.8 492 L391.5 491.8 L392.2 491.7 L392.9 491.6 L393.5 491.5 L394.2 491.4 L394.9 491.3 L395.6 491.2 L396.3 491.1 L397 491.1 L397.7 491 L398.4 491 L399.1 490.9 L399.8 490.9 L400.5 490.9 L401.2 490.9 L401.9 491 L402.6 491 L403.3 491.1 L404 491.2 L404.7 491.4 L405.4 491.5 L406.1 491.6 L406.8 491.8 L407.5 491.9 L408.2 492 L408.8 492.2 L409.5 492.4 L410.2 492.6 L410.9 492.8 L411.5 493 L412.2 493.3 L412.8 493.5 L413.5 493.8 L414.1 494.1 L414.8 494.4 L415.4 494.7 L416.1 495 L416.7 495.3 L417.3 495.5 L418 495.8 L418.6 496.2 L419.3 496.5 L419.9 496.8 L420.5 497.1 L421.1 497.5 L421.7 497.8 L422.4 498.2 L422.9 498.6 L423.5 499 L424.1 499.4 L424.6 499.8 L425.1 500.2 L425.7 500.7 L426.2 501.1 L426.7 501.6 L427.2 502.2 L427.7 502.7 L428.1 503.2 L428.6 503.8 L429.1 504.3 L429.5 504.9 L429.9 505.4 L430.3 506 L430.7 506.6 L431.1 507.2 L431.4 507.7 L431.8 508.4 L432.1 509 L432.5 509.6 L432.8 510.2 L433.1 510.9 L433.4 511.5 L433.7 512.1 L434 512.8 L434.3 513.4 L434.5 514.1 L434.8 514.8 L435 515.4 L435.2 516.1 L435.4 516.7 L435.6 517.4 L435.7 518.1 L435.9 518.7 L436.1 519.4 L436.3 520.1 L436.4 520.8 L436.6 521.5 L436.7 522.2 L436.8 522.9 L436.9 523.6 L437 524.3 L437.1 525 L437.1 524.2 L437.1 523.5 L437.2 522.8 L437.3 522 L437.4 521.3 L437.5 520.6 L437.6 519.9 L437.8 519.2 L437.9 518.5 L438.1 517.9 L438.3 517.2 L438.5 516.5 L438.7 515.9 L438.9 515.3 L439.1 514.6 L439.3 514 L439.5 513.4 L439.8 512.7 L440.2 512.1 L440.5 511.5 L441 510.8 L441.4 510.2 L441.9 509.7 L442.3 509.1 L442.8 508.6 L443.3 508.2 L443.8 507.8 L444.4 507.5 L444.9 507.1 L445.6 506.8 L446.2 506.5 L446.9 506.2 L447.5 505.9 L448.2 505.6 L448.9 505.4 L449.6 505.2 L450.3 505 L451 504.9 L451.7 504.8 L452.4 504.7 L453 504.6 L453.7 504.5 L454.4 504.4 L455.1 504.3 L455.8 504.2 L456.5 504.1 L457.2 504 L457.9 504 L458.6 503.9 L459.3 503.9 L460 503.8 L460.7 503.8 L461.5 503.7 L462.2 503.7 L462.9 503.7 L463.6 503.7 L464.3 503.7 L465 503.7 L465.7 503.7 L466.4 503.7 L467.1 503.7 L467.8 503.8 L468.5 503.8 L469.2 503.8 L469.9 503.8 L470.6 503.9 L471.3 503.9 L472 503.9 L472.7 503.9 L473.4 504 L474.1 504 L474.8 504.1 L475.5 504.1 L476.2 504.1 L476.9 504.2 L477.6 504.2 L478.3 504.3 L479 504.4 L479.7 504.5 L480.4 504.6 L481.1 504.7 L481.7 504.8 L482.4 504.9 L483.1 505.1 L483.8 505.2 L484.5 505.3 L485.2 505.5 L485.9 505.6 L486.6 505.8 L487.3 505.9 L487.9 506.1 L488.6 506.2 L489.3 506.4 L490 506.6 L490.6 506.8 L491.3 507 L492 507.2 L492.6 507.5 L493.3 507.7 L493.9 508 L494.6 508.2 L495.2 508.5 L495.9 508.8 L496.5 509.1 L497.2 509.4 L497.8 509.6 L498.4 509.9 L499.1 510.2 L499.7 510.6 L500.3 510.9 L501 511.2 L501.6 511.6 L502.2 511.9 L502.8 512.3 L503.4 512.6 L504 513 L504.6 513.4 L505.1 513.8 L505.7 514.2 L506.2 514.6 L506.8 515.1 L507.3 515.6 L507.9 516 L508.4 516.5 L508.9 517.1 L509.4 517.6 L509.8 518.1 L510.3 518.7 L510.7 519.2 L511 519.8 L511.3 520.4 L511.6 521 L511.9 521.6 L512.2 522.3 L512.5 522.9 L512.7 523.6 L512.9 524.3 L513.1 525 L513.3 524.3 L513.5 523.6 L513.8 522.9 L514 522.3 L514.3 521.6 L514.6 520.9 L514.9 520.3 L515.2 519.7 L515.5 519 L515.8 518.4 L516.2 517.8 L516.5 517.2 L516.9 516.6 L517.3 516 L517.7 515.4 L518.1 514.9 L518.5 514.3 L519 513.7 L519.5 513.2 L519.9 512.6 L520.4 512.1 L520.9 511.6 L521.4 511.1 L521.9 510.7 L522.5 510.2 L523 509.8 L523.6 509.4 L524.1 508.9 L524.7 508.5 L525.3 508.1 L525.9 507.8 L526.6 507.4 L527.2 507 L527.8 506.7 L528.4 506.3 L529 506 L529.7 505.7 L530.3 505.4 L531 505.1 L531.6 504.9 L532.3 504.6" fill="none" stroke="#ee82ee" stroke-width="1.5" stroke-dasharray="2.2 2.2" clip-path="url(#cc)" />
<rect x="71" y="415" width="460.6" height="109.7" fill="none" stroke="#000" stroke-width="1.2"/>
<line x1="186.2" y1="524.7" x2="186.2" y2="519.2" stroke="#000" stroke-width="1.0" />
<line x1="186.2" y1="415" x2="186.2" y2="420.5" stroke="#000" stroke-width="1.0" />
<line x1="301.3" y1="524.7" x2="301.3" y2="519.2" stroke="#000" stroke-width="1.0" />
<line x1="301.3" y1="415" x2="301.3" y2="420.5" stroke="#000" stroke-width="1.0" />
<line x1="416.5" y1="524.7" x2="416.5" y2="519.2" stroke="#000" stroke-width="1.0" />
<line x1="416.5" y1="415" x2="416.5" y2="420.5" stroke="#000" stroke-width="1.0" />
<line x1="71" y1="442.4" x2="76.5" y2="442.4" stroke="#000" stroke-width="1.0" />
<line x1="531.6" y1="442.4" x2="526.1" y2="442.4" stroke="#000" stroke-width="1.0" />
<line x1="71" y1="469.9" x2="76.5" y2="469.9" stroke="#000" stroke-width="1.0" />
<line x1="531.6" y1="469.9" x2="526.1" y2="469.9" stroke="#000" stroke-width="1.0" />
<line x1="71" y1="497.3" x2="76.5" y2="497.3" stroke="#000" stroke-width="1.0" />
<line x1="531.6" y1="497.3" x2="526.1" y2="497.3" stroke="#000" stroke-width="1.0" />
<line x1="71" y1="428.7" x2="73.8" y2="428.7" stroke="#000" stroke-width="1.0" />
<line x1="531.6" y1="428.7" x2="528.9" y2="428.7" stroke="#000" stroke-width="1.0" />
<line x1="71" y1="456.1" x2="73.8" y2="456.1" stroke="#000" stroke-width="1.0" />
<line x1="531.6" y1="456.1" x2="528.9" y2="456.1" stroke="#000" stroke-width="1.0" />
<line x1="71" y1="483.6" x2="73.8" y2="483.6" stroke="#000" stroke-width="1.0" />
<line x1="531.6" y1="483.6" x2="528.9" y2="483.6" stroke="#000" stroke-width="1.0" />
<line x1="71" y1="511" x2="73.8" y2="511" stroke="#000" stroke-width="1.0" />
<line x1="531.6" y1="511" x2="528.9" y2="511" stroke="#000" stroke-width="1.0" />
<text x="62.9" y="421.2" text-anchor="end" font-size="13.3" fill="#000">10<tspan font-size="10.6" dy="-6.4">-2</tspan></text>
<text x="62.9" y="448.6" text-anchor="end" font-size="13.3" fill="#000">10<tspan font-size="10.6" dy="-6.4">-4</tspan></text>
<text x="62.9" y="476.1" text-anchor="end" font-size="13.3" fill="#000">10<tspan font-size="10.6" dy="-6.4">-6</tspan></text>
<text x="62.9" y="503.5" text-anchor="end" font-size="13.3" fill="#000">10<tspan font-size="10.6" dy="-6.4">-8</tspan></text>
<text x="62.9" y="530.9" text-anchor="end" font-size="13.3" fill="#000">10<tspan font-size="10.6" dy="-6.4">-10</tspan></text>
<text x="71" y="542.7" text-anchor="middle" font-family="'Liberation Sans', sans-serif" font-size="13.3" fill="#000" >-100</text>
<text x="186.3" y="542.7" text-anchor="middle" font-family="'Liberation Sans', sans-serif" font-size="13.3" fill="#000" >-50</text>
<text x="303" y="542.7" text-anchor="middle" font-family="'Liberation Sans', sans-serif" font-size="13.3" fill="#000" >0</text>
<text x="418.3" y="542.7" text-anchor="middle" font-family="'Liberation Sans', sans-serif" font-size="13.3" fill="#000" >50</text>
<text x="533.4" y="542.7" text-anchor="middle" font-family="'Liberation Sans', sans-serif" font-size="13.3" fill="#000" >100</text>
<text x="0" y="0" text-anchor="middle" font-family="'Liberation Sans', sans-serif" font-size="13.3" fill="#000" transform="translate(20.6 470.2) rotate(-90)">gauge violation</text>
<text x="216.9" y="430.4" text-anchor="middle" font-family="'Liberation Sans', sans-serif" font-size="13.3" fill="#000" >(c)</text>
<rect x="78.8" y="421.3" width="102.4" height="72.8" fill="#fff" stroke="#000" stroke-width="1.1"/>
<line x1="92.9" y1="421.3" x2="92.9" y2="474.4" stroke="#222" stroke-width="0.8" />
<line x1="92.5" y1="439.7" x2="92.5" y2="453.8" stroke="#222" stroke-width="1.2" />
<line x1="89" y1="460.2" x2="89" y2="494.1" stroke="#222" stroke-width="0.9" />
<line x1="119.7" y1="421.3" x2="119.7" y2="494.1" stroke="#222" stroke-width="0.8" />
<line x1="120.6" y1="439.7" x2="120.6" y2="474.4" stroke="#222" stroke-width="1.2" />
<g font-family="'Liberation Serif', serif" font-style="italic" fill="#3a3a3a">
<text x="97.6" y="442.8" font-size="18.8" textLength="12.6" lengthAdjust="spacingAndGlyphs">Z</text>
<text x="111.4" y="446" font-size="14" textLength="4.6" lengthAdjust="spacingAndGlyphs">t</text>
<path d="M103.6 428.2 l2.5 -2.3 l2.5 2.3" fill="none" stroke="#3a3a3a" stroke-width="0.9"/>
</g>
<g font-family="'Liberation Serif', serif" font-style="italic" fill="#3a3a3a">
<text x="96.2" y="462" font-size="18.8" textLength="12.6" lengthAdjust="spacingAndGlyphs">Z</text>
<text x="110.2" y="465.2" font-size="14" textLength="6.6" lengthAdjust="spacingAndGlyphs">r</text>
<path d="M103 447.4 l2.5 -2.3 l2.5 2.3" fill="none" stroke="#3a3a3a" stroke-width="0.9"/>
</g>
<g font-family="'Liberation Serif', serif" font-style="italic" fill="#3a3a3a">
<text x="94.1" y="481.3" font-size="18.8" textLength="12.6" lengthAdjust="spacingAndGlyphs">Z</text>
<text x="106.6" y="484.5" font-size="14" textLength="8.4" lengthAdjust="spacingAndGlyphs">ϕ</text>
<path d="M100.2 466.7 l2.5 -2.3 l2.5 2.3" fill="none" stroke="#3a3a3a" stroke-width="0.9"/>
</g>
<path d="M135 437.6 L173 437.6" fill="none" stroke="#ff0000" stroke-width="1.5" />
<path d="M135 457.7 L173 457.7" fill="none" stroke="#ffa500" stroke-width="1.5" stroke-dasharray="4 1.8" />
<path d="M135 477.7 L171 477.7" fill="none" stroke="#ee82ee" stroke-width="1.5" stroke-dasharray="2 3" />
</g>
<g font-family="'Liberation Serif', serif" font-style="italic" fill="#3a3a3a">
<text x="284" y="224.9" font-size="19.2" textLength="8" lengthAdjust="spacingAndGlyphs">r</text>
<path d="M296.8 221.2 L296.8 227.8 M293.9 222.8 L299.7 226.2 M299.7 222.8 L293.9 226.2 " fill="none" stroke="#3a3a3a" stroke-width="0.9"/>
<line x1="302.4" y1="229.5" x2="309.4" y2="211.1" stroke="#3a3a3a" stroke-width="1"/>
<text x="310.6" y="224.9" font-size="19.2" textLength="18.2" lengthAdjust="spacingAndGlyphs">M</text>
</g>
<g font-family="'Liberation Serif', serif" font-style="italic" fill="#3a3a3a">
<text x="288.4" y="562.5" font-size="19.2" textLength="8" lengthAdjust="spacingAndGlyphs">r</text>
<path d="M301.2 558.8 L301.2 565.4 M298.3 560.5 L304.1 563.8 M304.1 560.5 L298.3 563.8 " fill="none" stroke="#3a3a3a" stroke-width="0.9"/>
<line x1="306.8" y1="567.1" x2="313.8" y2="548.7" stroke="#3a3a3a" stroke-width="1"/>
<text x="315" y="562.5" font-size="19.2" textLength="18.2" lengthAdjust="spacingAndGlyphs">M</text>
</g>
<g font-family="'Liberation Serif', serif" font-style="italic" fill="#3a3a3a" transform="translate(20.9 107.4) rotate(-90)">
<text x="0" y="0" font-size="19.2" textLength="10.4" lengthAdjust="spacingAndGlyphs">u</text><path d="M3.9 -10.9 l2.3 -2.5 l2.3 2.5" fill="none" stroke="#3a3a3a" stroke-width="0.9"/><text x="12.1" y="-9.9" font-size="13.6" textLength="23.4" lengthAdjust="spacingAndGlyphs"><tspan font-style="normal" font-size="15">(</tspan>m<tspan font-style="normal" font-size="15">)</tspan></text><text x="11.4" y="5.8" font-size="13.6" textLength="18.6" lengthAdjust="spacingAndGlyphs">αβ</text>
</g>
<g font-family="'Liberation Serif', serif" font-style="italic" fill="#3a3a3a" transform="translate(20.9 325.0) rotate(-90)">
<text x="0" y="0" font-size="19.2" textLength="19.4" lengthAdjust="spacingAndGlyphs">M</text>
<line x1="21.6" y1="-10.4" x2="30.0" y2="-10.4" stroke="#3a3a3a" stroke-width="0.9"/>
<text x="31.9" y="-7.2" font-size="13.6" font-style="normal">1</text>
<text x="46" y="-7.5" font-size="13.6" textLength="8.4" lengthAdjust="spacingAndGlyphs">∂</text>
<line x1="42.2" y1="-5.3" x2="57.2" y2="-5.3" stroke="#3a3a3a" stroke-width="0.9"/>
<text x="43.2" y="6.7" font-size="13.6" textLength="13.4" lengthAdjust="spacingAndGlyphs">∂t</text>
<text x="59.9" y="0" font-size="19.2" textLength="10.4" lengthAdjust="spacingAndGlyphs">u</text><path d="M63.8 -10.9 l2.3 -2.5 l2.3 2.5" fill="none" stroke="#3a3a3a" stroke-width="0.9"/><text x="72" y="-9.9" font-size="13.6" textLength="23.4" lengthAdjust="spacingAndGlyphs"><tspan font-style="normal" font-size="15">(</tspan>m<tspan font-style="normal" font-size="15">)</tspan></text><text x="71.3" y="5.8" font-size="13.6" textLength="18.6" lengthAdjust="spacingAndGlyphs">αβ</text>
</g>
</svg></body></html>
